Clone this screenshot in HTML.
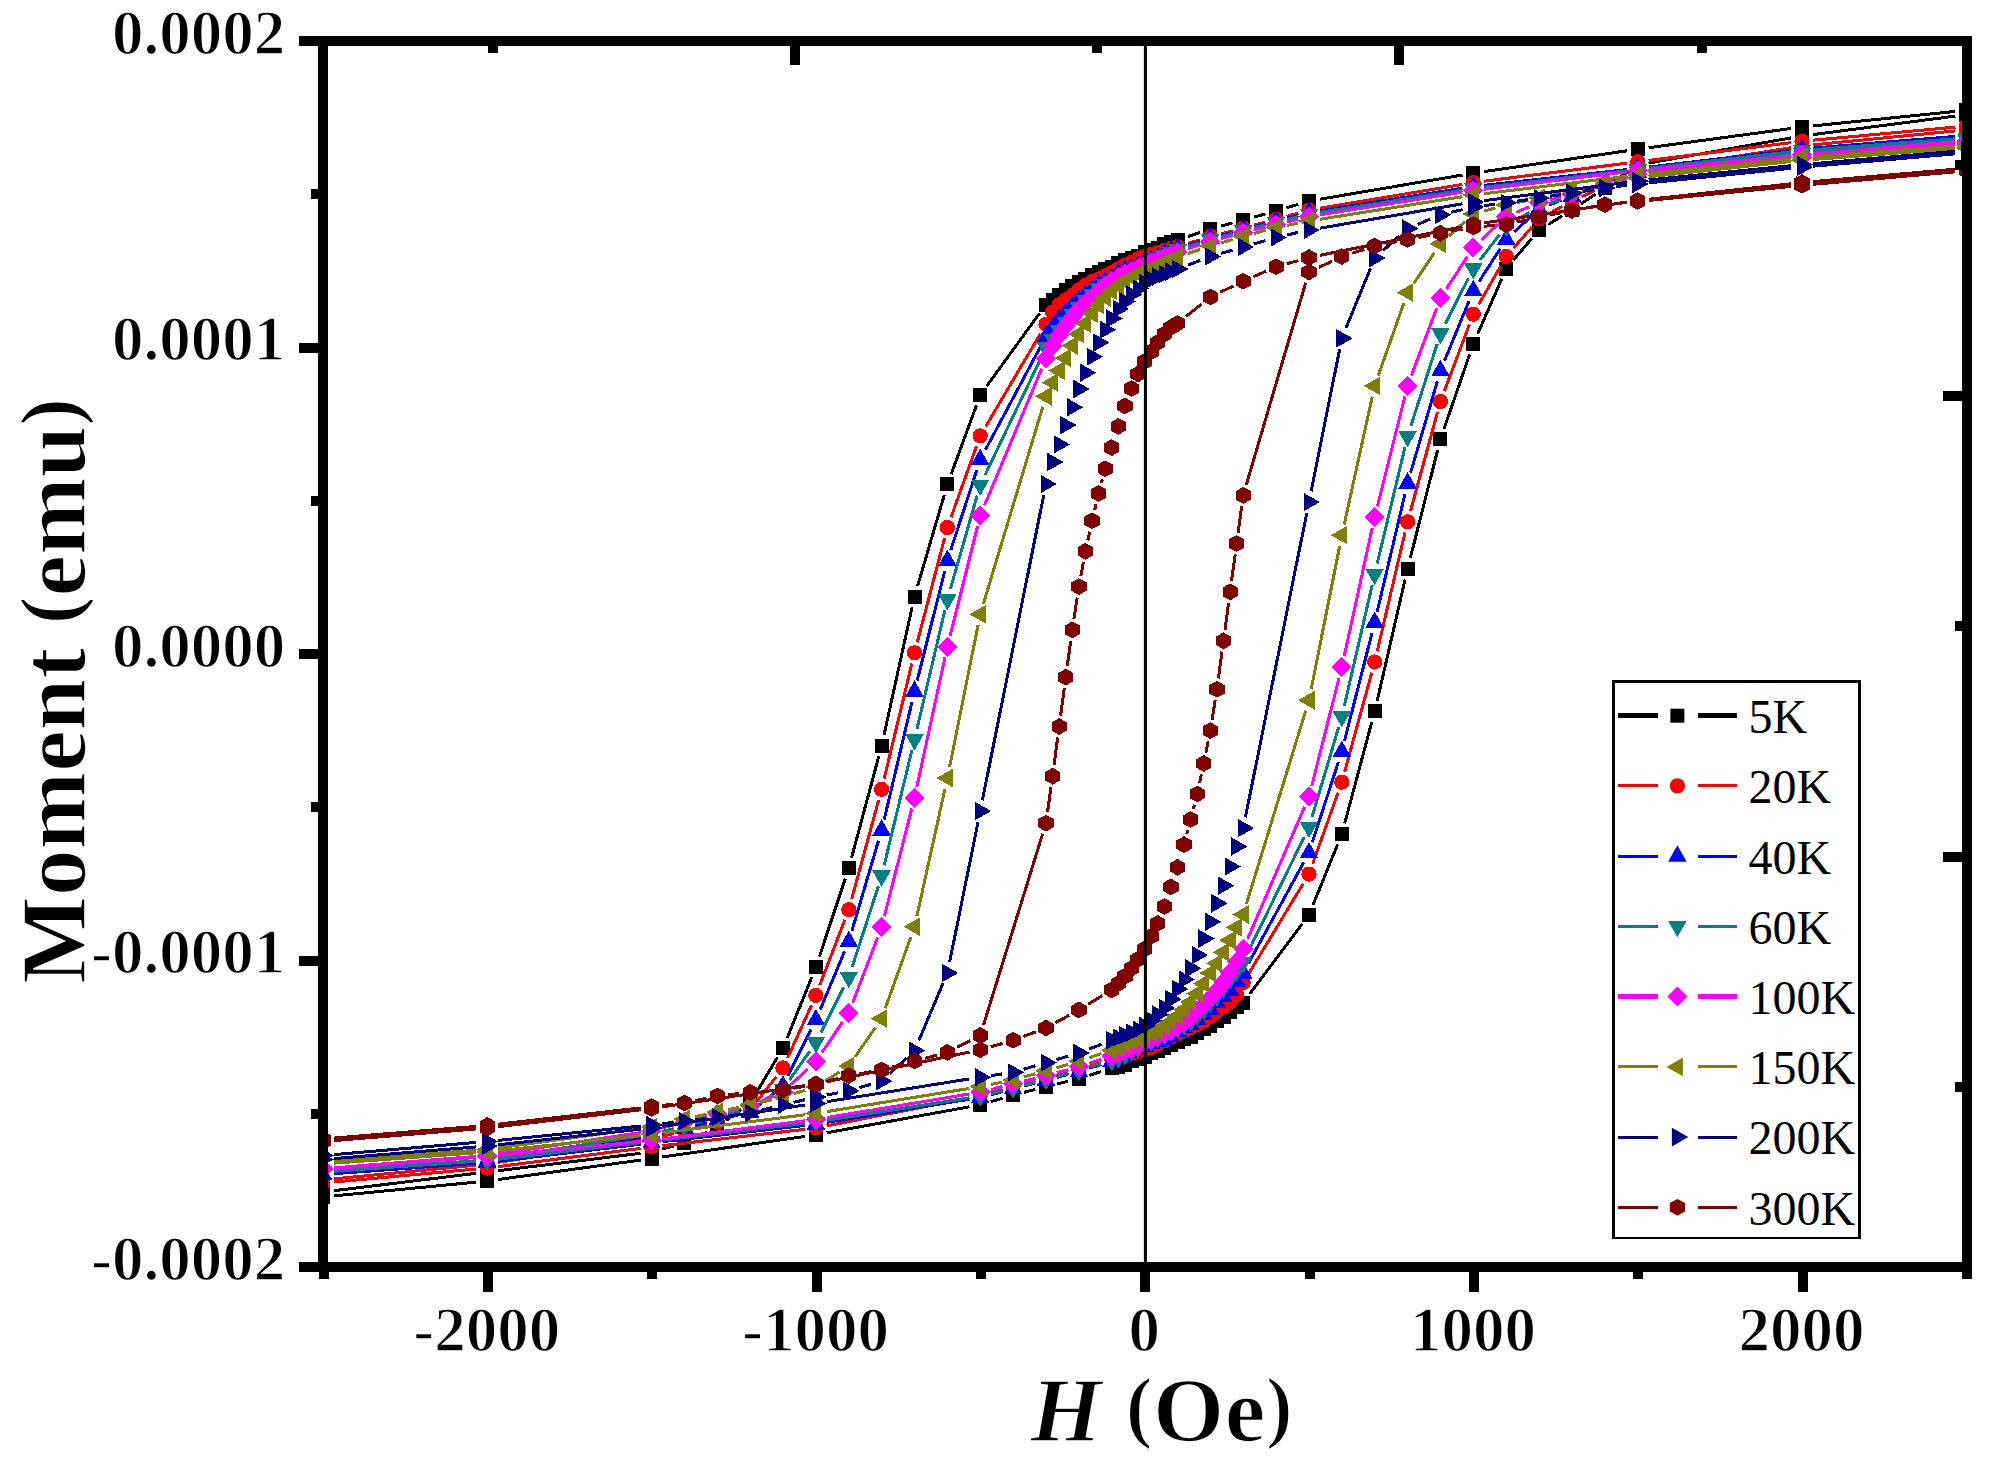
<!DOCTYPE html>
<html lang="en">
<head>
<meta charset="utf-8">
<title>Moment vs H hysteresis loops</title>
<style>
html,body{margin:0;padding:0;background:#fff;}
body{width:1998px;height:1466px;overflow:hidden;}
svg{display:block;}
</style>
</head>
<body>
<svg width="1998" height="1466" viewBox="0 0 1998 1466">
<rect width="1998" height="1466" fill="#fff"/>
<defs><clipPath id="pc"><rect x="323.0" y="41.0" width="1644.0" height="1226.0"/></clipPath></defs>
<g clip-path="url(#pc)" shape-rendering="crispEdges">
<g><path d="M1955.4 111.4L1812.9 125.9M1791.1 128.5L1648.6 147.7M1626.8 150.8L1484.2 171.6M1462.5 175.0L1319.8 199.2M1298.4 204.2L1286.6 207.8M1265.5 213.9L1253.8 217.1M1232.6 222.9L1220.9 226.1M1199.9 232.5L1187.9 236.5M1039.5 313.4L986.7 386.1M976.5 405.3L951.2 474.1M944.3 495.0L917.6 586.0M912.1 607.3L884.0 735.0M878.8 756.3L851.6 857.7M845.3 878.7L819.4 956.6M811.8 977.2L787.2 1037.8M777.4 1057.4L755.8 1093.6M741.3 1109.5L726.2 1120.5M707.4 1131.8L694.3 1138.2M673.8 1145.9L662.2 1149.1M640.6 1153.3L498.1 1170.7M476.3 1173.3L333.8 1190.7M333.8 1195.9L476.3 1182.1M498.1 1179.5L640.7 1160.1M662.4 1157.0L805.0 1136.4M826.7 1132.8L969.4 1106.8M990.8 1101.7L1002.6 1098.2M1023.8 1092.4L1035.3 1089.5M1056.7 1084.1L1068.2 1081.3M1089.4 1075.3L1101.2 1071.6M1249.8 993.9L1302.4 923.8M1313.1 904.8L1337.7 844.2M1344.7 823.4L1371.8 722.0M1377.2 700.7L1405.1 579.5M1410.3 558.1L1437.7 450.0M1444.0 428.9L1469.7 354.3M1477.7 333.8L1501.8 278.7M1513.3 260.2L1531.9 238.5M1548.4 224.4L1562.5 215.7M1581.1 203.9L1595.6 194.1M1613.8 181.7L1628.6 171.3M1648.5 163.1L1791.2 137.9M1812.9 134.6L1955.4 116.1" stroke="#000000" stroke-width="3.0" fill="none"/>
<rect x="1959.4" y="103.3" width="14" height="14" fill="#000000"/>
<rect x="1795.0" y="120.0" width="14" height="14" fill="#000000"/>
<rect x="1630.7" y="142.2" width="14" height="14" fill="#000000"/>
<rect x="1466.3" y="166.2" width="14" height="14" fill="#000000"/>
<rect x="1302.0" y="194.0" width="14" height="14" fill="#000000"/>
<rect x="1269.1" y="204.0" width="14" height="14" fill="#000000"/>
<rect x="1236.2" y="213.0" width="14" height="14" fill="#000000"/>
<rect x="1203.3" y="222.0" width="14" height="14" fill="#000000"/>
<rect x="1170.5" y="233.0" width="14" height="14" fill="#000000"/>
<rect x="1163.9" y="234.6" width="14" height="14" fill="#000000"/>
<rect x="1157.3" y="236.5" width="14" height="14" fill="#000000"/>
<rect x="1150.7" y="240.5" width="14" height="14" fill="#000000"/>
<rect x="1144.2" y="242.5" width="14" height="14" fill="#000000"/>
<rect x="1137.6" y="245.0" width="14" height="14" fill="#000000"/>
<rect x="1131.0" y="248.5" width="14" height="14" fill="#000000"/>
<rect x="1124.5" y="251.0" width="14" height="14" fill="#000000"/>
<rect x="1117.9" y="253.3" width="14" height="14" fill="#000000"/>
<rect x="1111.3" y="256.1" width="14" height="14" fill="#000000"/>
<rect x="1104.7" y="259.5" width="14" height="14" fill="#000000"/>
<rect x="1098.2" y="262.0" width="14" height="14" fill="#000000"/>
<rect x="1091.6" y="264.5" width="14" height="14" fill="#000000"/>
<rect x="1085.0" y="268.0" width="14" height="14" fill="#000000"/>
<rect x="1078.4" y="271.7" width="14" height="14" fill="#000000"/>
<rect x="1071.9" y="275.0" width="14" height="14" fill="#000000"/>
<rect x="1065.3" y="279.2" width="14" height="14" fill="#000000"/>
<rect x="1058.7" y="283.4" width="14" height="14" fill="#000000"/>
<rect x="1052.1" y="288.0" width="14" height="14" fill="#000000"/>
<rect x="1045.6" y="293.0" width="14" height="14" fill="#000000"/>
<rect x="1039.0" y="297.5" width="14" height="14" fill="#000000"/>
<rect x="973.2" y="388.0" width="14" height="14" fill="#000000"/>
<rect x="940.4" y="477.4" width="14" height="14" fill="#000000"/>
<rect x="907.5" y="589.6" width="14" height="14" fill="#000000"/>
<rect x="874.6" y="738.7" width="14" height="14" fill="#000000"/>
<rect x="841.8" y="861.3" width="14" height="14" fill="#000000"/>
<rect x="808.9" y="960.0" width="14" height="14" fill="#000000"/>
<rect x="776.0" y="1041.0" width="14" height="14" fill="#000000"/>
<rect x="743.2" y="1096.0" width="14" height="14" fill="#000000"/>
<rect x="710.3" y="1120.0" width="14" height="14" fill="#000000"/>
<rect x="677.4" y="1136.0" width="14" height="14" fill="#000000"/>
<rect x="644.6" y="1145.0" width="14" height="14" fill="#000000"/>
<rect x="480.2" y="1165.0" width="14" height="14" fill="#000000"/>
<rect x="315.9" y="1185.0" width="14" height="14" fill="#000000"/>
<rect x="315.9" y="1190.0" width="14" height="14" fill="#000000"/>
<rect x="480.2" y="1174.0" width="14" height="14" fill="#000000"/>
<rect x="644.6" y="1151.6" width="14" height="14" fill="#000000"/>
<rect x="808.9" y="1127.8" width="14" height="14" fill="#000000"/>
<rect x="973.2" y="1097.8" width="14" height="14" fill="#000000"/>
<rect x="1006.1" y="1088.1" width="14" height="14" fill="#000000"/>
<rect x="1039.0" y="1079.8" width="14" height="14" fill="#000000"/>
<rect x="1071.9" y="1071.6" width="14" height="14" fill="#000000"/>
<rect x="1104.7" y="1061.3" width="14" height="14" fill="#000000"/>
<rect x="1111.3" y="1059.8" width="14" height="14" fill="#000000"/>
<rect x="1117.9" y="1058.0" width="14" height="14" fill="#000000"/>
<rect x="1124.5" y="1054.0" width="14" height="14" fill="#000000"/>
<rect x="1131.0" y="1052.1" width="14" height="14" fill="#000000"/>
<rect x="1137.6" y="1049.6" width="14" height="14" fill="#000000"/>
<rect x="1144.2" y="1046.1" width="14" height="14" fill="#000000"/>
<rect x="1150.7" y="1043.5" width="14" height="14" fill="#000000"/>
<rect x="1157.3" y="1041.2" width="14" height="14" fill="#000000"/>
<rect x="1163.9" y="1038.3" width="14" height="14" fill="#000000"/>
<rect x="1170.5" y="1034.7" width="14" height="14" fill="#000000"/>
<rect x="1177.0" y="1032.1" width="14" height="14" fill="#000000"/>
<rect x="1183.6" y="1029.5" width="14" height="14" fill="#000000"/>
<rect x="1190.2" y="1025.8" width="14" height="14" fill="#000000"/>
<rect x="1196.8" y="1022.0" width="14" height="14" fill="#000000"/>
<rect x="1203.3" y="1018.6" width="14" height="14" fill="#000000"/>
<rect x="1209.9" y="1014.2" width="14" height="14" fill="#000000"/>
<rect x="1216.5" y="1009.9" width="14" height="14" fill="#000000"/>
<rect x="1223.1" y="1005.3" width="14" height="14" fill="#000000"/>
<rect x="1229.6" y="1000.2" width="14" height="14" fill="#000000"/>
<rect x="1236.2" y="995.7" width="14" height="14" fill="#000000"/>
<rect x="1302.0" y="908.0" width="14" height="14" fill="#000000"/>
<rect x="1334.8" y="827.0" width="14" height="14" fill="#000000"/>
<rect x="1367.7" y="704.4" width="14" height="14" fill="#000000"/>
<rect x="1400.6" y="561.8" width="14" height="14" fill="#000000"/>
<rect x="1433.4" y="432.3" width="14" height="14" fill="#000000"/>
<rect x="1466.3" y="336.9" width="14" height="14" fill="#000000"/>
<rect x="1499.2" y="261.6" width="14" height="14" fill="#000000"/>
<rect x="1532.0" y="223.1" width="14" height="14" fill="#000000"/>
<rect x="1564.9" y="203.0" width="14" height="14" fill="#000000"/>
<rect x="1597.8" y="181.0" width="14" height="14" fill="#000000"/>
<rect x="1630.7" y="158.0" width="14" height="14" fill="#000000"/>
<rect x="1795.0" y="129.0" width="14" height="14" fill="#000000"/>
<rect x="1959.4" y="107.7" width="14" height="14" fill="#000000"/></g>
<g><path d="M1955.4 127.1L1813.0 140.2M1791.1 142.6L1648.6 160.4M1626.7 163.2L1484.2 181.2M1462.4 184.4L1319.8 208.2M1298.4 213.1L1286.6 216.4M1265.4 222.3L1253.9 225.2M1232.6 230.8L1221.0 233.7M1199.8 239.8L1188.0 243.4M1040.4 333.7L985.8 426.4M976.5 446.3L951.1 517.1M944.6 538.1L917.3 642.2M911.9 663.5L884.2 778.6M878.7 799.9L851.7 899.1M844.8 920.0L819.8 985.1M811.4 1005.4L787.6 1058.0M776.3 1076.7L756.9 1101.3M739.8 1113.8L727.6 1118.2M706.7 1124.9L695.0 1128.1M673.7 1133.6L662.2 1136.4M640.7 1140.7L498.1 1162.3M476.3 1165.1L333.8 1178.9M333.8 1182.0L476.2 1169.0M498.1 1166.6L640.6 1148.4M662.5 1145.7L805.0 1129.3M826.7 1125.9L969.5 1097.9M990.8 1092.7L1002.6 1089.4M1023.8 1083.6L1035.3 1080.6M1056.6 1075.1L1068.2 1072.2M1089.4 1066.2L1101.2 1062.6M1248.9 973.3L1303.3 883.5M1312.7 863.7L1338.1 792.6M1344.7 771.6L1371.8 672.6M1377.2 651.3L1405.0 532.5M1410.5 511.2L1437.5 412.2M1444.3 391.3L1469.4 324.5M1478.7 304.6L1500.7 266.1M1513.4 248.2L1531.8 227.3M1548.7 213.8L1562.2 206.4M1581.9 196.6L1594.8 190.6M1614.9 181.7L1627.5 176.3M1648.5 170.3L1791.1 147.7M1812.9 144.9L1955.4 130.9" stroke="#ff0000" stroke-width="3.0" fill="none"/>
<circle cx="1966.4" cy="126.1" r="7.6" fill="#ff0000"/>
<circle cx="1802.0" cy="141.2" r="7.6" fill="#ff0000"/>
<circle cx="1637.7" cy="161.8" r="7.6" fill="#ff0000"/>
<circle cx="1473.3" cy="182.6" r="7.6" fill="#ff0000"/>
<circle cx="1309.0" cy="210.0" r="7.6" fill="#ff0000"/>
<circle cx="1276.1" cy="219.5" r="7.6" fill="#ff0000"/>
<circle cx="1243.2" cy="228.0" r="7.6" fill="#ff0000"/>
<circle cx="1210.3" cy="236.5" r="7.6" fill="#ff0000"/>
<circle cx="1177.5" cy="246.7" r="7.6" fill="#ff0000"/>
<circle cx="1170.9" cy="248.6" r="7.6" fill="#ff0000"/>
<circle cx="1164.3" cy="250.5" r="7.6" fill="#ff0000"/>
<circle cx="1157.7" cy="252.4" r="7.6" fill="#ff0000"/>
<circle cx="1151.2" cy="254.4" r="7.6" fill="#ff0000"/>
<circle cx="1144.6" cy="256.5" r="7.6" fill="#ff0000"/>
<circle cx="1138.0" cy="259.0" r="7.6" fill="#ff0000"/>
<circle cx="1131.5" cy="262.2" r="7.6" fill="#ff0000"/>
<circle cx="1124.9" cy="265.5" r="7.6" fill="#ff0000"/>
<circle cx="1118.3" cy="268.8" r="7.6" fill="#ff0000"/>
<circle cx="1111.7" cy="272.6" r="7.6" fill="#ff0000"/>
<circle cx="1105.2" cy="275.8" r="7.6" fill="#ff0000"/>
<circle cx="1098.6" cy="279.0" r="7.6" fill="#ff0000"/>
<circle cx="1092.0" cy="281.8" r="7.6" fill="#ff0000"/>
<circle cx="1085.4" cy="285.5" r="7.6" fill="#ff0000"/>
<circle cx="1078.9" cy="290.0" r="7.6" fill="#ff0000"/>
<circle cx="1072.3" cy="295.3" r="7.6" fill="#ff0000"/>
<circle cx="1065.7" cy="299.8" r="7.6" fill="#ff0000"/>
<circle cx="1059.1" cy="304.8" r="7.6" fill="#ff0000"/>
<circle cx="1052.6" cy="312.0" r="7.6" fill="#ff0000"/>
<circle cx="1046.0" cy="324.2" r="7.6" fill="#ff0000"/>
<circle cx="980.2" cy="435.9" r="7.6" fill="#ff0000"/>
<circle cx="947.4" cy="527.5" r="7.6" fill="#ff0000"/>
<circle cx="914.5" cy="652.8" r="7.6" fill="#ff0000"/>
<circle cx="881.6" cy="789.3" r="7.6" fill="#ff0000"/>
<circle cx="848.8" cy="909.7" r="7.6" fill="#ff0000"/>
<circle cx="815.9" cy="995.4" r="7.6" fill="#ff0000"/>
<circle cx="783.0" cy="1068.0" r="7.6" fill="#ff0000"/>
<circle cx="750.2" cy="1110.0" r="7.6" fill="#ff0000"/>
<circle cx="717.3" cy="1122.0" r="7.6" fill="#ff0000"/>
<circle cx="684.4" cy="1131.0" r="7.6" fill="#ff0000"/>
<circle cx="651.6" cy="1139.0" r="7.6" fill="#ff0000"/>
<circle cx="487.2" cy="1164.0" r="7.6" fill="#ff0000"/>
<circle cx="322.9" cy="1180.0" r="7.6" fill="#ff0000"/>
<circle cx="322.9" cy="1183.0" r="7.6" fill="#ff0000"/>
<circle cx="487.2" cy="1168.0" r="7.6" fill="#ff0000"/>
<circle cx="651.6" cy="1147.0" r="7.6" fill="#ff0000"/>
<circle cx="815.9" cy="1128.0" r="7.6" fill="#ff0000"/>
<circle cx="980.2" cy="1095.8" r="7.6" fill="#ff0000"/>
<circle cx="1013.1" cy="1086.3" r="7.6" fill="#ff0000"/>
<circle cx="1046.0" cy="1077.9" r="7.6" fill="#ff0000"/>
<circle cx="1078.9" cy="1069.4" r="7.6" fill="#ff0000"/>
<circle cx="1111.7" cy="1059.3" r="7.6" fill="#ff0000"/>
<circle cx="1118.3" cy="1057.4" r="7.6" fill="#ff0000"/>
<circle cx="1124.9" cy="1055.6" r="7.6" fill="#ff0000"/>
<circle cx="1131.5" cy="1053.7" r="7.6" fill="#ff0000"/>
<circle cx="1138.0" cy="1051.8" r="7.6" fill="#ff0000"/>
<circle cx="1144.6" cy="1049.7" r="7.6" fill="#ff0000"/>
<circle cx="1151.2" cy="1047.2" r="7.6" fill="#ff0000"/>
<circle cx="1157.7" cy="1044.1" r="7.6" fill="#ff0000"/>
<circle cx="1164.3" cy="1040.8" r="7.6" fill="#ff0000"/>
<circle cx="1170.9" cy="1037.5" r="7.6" fill="#ff0000"/>
<circle cx="1177.5" cy="1033.8" r="7.6" fill="#ff0000"/>
<circle cx="1184.0" cy="1030.6" r="7.6" fill="#ff0000"/>
<circle cx="1190.6" cy="1027.5" r="7.6" fill="#ff0000"/>
<circle cx="1197.2" cy="1024.7" r="7.6" fill="#ff0000"/>
<circle cx="1203.8" cy="1021.1" r="7.6" fill="#ff0000"/>
<circle cx="1210.3" cy="1016.6" r="7.6" fill="#ff0000"/>
<circle cx="1216.9" cy="1011.4" r="7.6" fill="#ff0000"/>
<circle cx="1223.5" cy="1006.9" r="7.6" fill="#ff0000"/>
<circle cx="1230.1" cy="1002.0" r="7.6" fill="#ff0000"/>
<circle cx="1236.6" cy="994.8" r="7.6" fill="#ff0000"/>
<circle cx="1243.2" cy="982.7" r="7.6" fill="#ff0000"/>
<circle cx="1309.0" cy="874.1" r="7.6" fill="#ff0000"/>
<circle cx="1341.8" cy="782.2" r="7.6" fill="#ff0000"/>
<circle cx="1374.7" cy="662.0" r="7.6" fill="#ff0000"/>
<circle cx="1407.6" cy="521.8" r="7.6" fill="#ff0000"/>
<circle cx="1440.4" cy="401.6" r="7.6" fill="#ff0000"/>
<circle cx="1473.3" cy="314.2" r="7.6" fill="#ff0000"/>
<circle cx="1506.2" cy="256.5" r="7.6" fill="#ff0000"/>
<circle cx="1539.0" cy="219.0" r="7.6" fill="#ff0000"/>
<circle cx="1571.9" cy="201.2" r="7.6" fill="#ff0000"/>
<circle cx="1604.8" cy="186.0" r="7.6" fill="#ff0000"/>
<circle cx="1637.7" cy="172.0" r="7.6" fill="#ff0000"/>
<circle cx="1802.0" cy="146.0" r="7.6" fill="#ff0000"/>
<circle cx="1966.4" cy="129.8" r="7.6" fill="#ff0000"/></g>
<g><path d="M1955.4 136.4L1813.0 148.1M1791.1 150.3L1648.6 167.1M1626.7 169.6L1484.2 185.3M1462.4 188.2L1319.8 210.8M1298.3 215.3L1286.7 218.2M1265.4 223.8L1253.9 226.7M1232.6 232.3L1221.0 235.2M1199.9 241.3L1187.9 245.2M1040.8 346.1L985.4 449.9M976.8 470.1L950.8 550.0M944.7 571.2L917.2 680.6M912.0 702.0L884.2 819.5M878.5 840.7L851.9 930.9M844.5 951.5L820.2 1009.7M811.0 1029.7L787.9 1076.1M774.4 1092.8L758.8 1105.2M739.5 1114.6L728.0 1117.4M706.6 1122.6L695.1 1125.4M673.7 1130.6L662.2 1133.4M640.7 1137.7L498.1 1159.8M476.2 1162.3L333.8 1173.2M333.8 1173.7L476.2 1163.3M498.1 1161.2L640.6 1144.2M662.5 1141.6L805.0 1125.4M826.8 1122.4L969.4 1099.2M990.9 1094.7L1002.5 1091.7M1023.8 1086.1L1035.3 1083.0M1056.6 1077.5L1068.2 1074.4M1089.3 1068.3L1101.3 1064.4M1248.5 963.3L1303.7 862.5M1312.3 842.3L1338.4 762.0M1344.5 740.8L1372.0 633.1M1377.2 611.7L1405.0 493.9M1410.6 472.6L1437.3 381.4M1444.6 360.6L1469.1 300.9M1479.2 281.4L1500.2 248.7M1514.2 231.9L1531.0 216.5M1549.3 205.0L1561.7 200.0M1582.1 192.0L1594.6 187.0M1615.2 179.5L1627.2 175.5M1648.6 170.6L1791.1 152.4M1813.0 150.0L1955.4 137.5" stroke="#0000ff" stroke-width="3.0" fill="none"/>
<polygon points="1966.4,124.6 1957.1,141.0 1975.7,141.0" fill="#0000ff"/>
<polygon points="1802.0,138.1 1792.7,154.5 1811.3,154.5" fill="#0000ff"/>
<polygon points="1637.7,157.5 1628.4,173.9 1647.0,173.9" fill="#0000ff"/>
<polygon points="1473.3,175.6 1464.0,192.0 1482.6,192.0" fill="#0000ff"/>
<polygon points="1309.0,201.6 1299.7,218.0 1318.2,218.0" fill="#0000ff"/>
<polygon points="1276.1,210.1 1266.8,226.5 1285.4,226.5" fill="#0000ff"/>
<polygon points="1243.2,218.6 1233.9,235.0 1252.5,235.0" fill="#0000ff"/>
<polygon points="1210.3,227.1 1201.0,243.5 1219.6,243.5" fill="#0000ff"/>
<polygon points="1177.5,237.6 1168.2,254.0 1186.8,254.0" fill="#0000ff"/>
<polygon points="1170.9,240.3 1161.6,256.7 1180.2,256.7" fill="#0000ff"/>
<polygon points="1164.3,243.3 1155.0,259.7 1173.6,259.7" fill="#0000ff"/>
<polygon points="1157.7,246.5 1148.4,262.9 1167.0,262.9" fill="#0000ff"/>
<polygon points="1151.2,249.7 1141.9,266.1 1160.5,266.1" fill="#0000ff"/>
<polygon points="1144.6,252.6 1135.3,269.0 1153.9,269.0" fill="#0000ff"/>
<polygon points="1138.0,255.2 1128.7,271.6 1147.3,271.6" fill="#0000ff"/>
<polygon points="1131.5,257.4 1122.2,273.8 1140.8,273.8" fill="#0000ff"/>
<polygon points="1124.9,259.6 1115.6,276.0 1134.2,276.0" fill="#0000ff"/>
<polygon points="1118.3,262.6 1109.0,279.0 1127.6,279.0" fill="#0000ff"/>
<polygon points="1111.7,267.1 1102.4,283.5 1121.0,283.5" fill="#0000ff"/>
<polygon points="1105.2,270.6 1095.9,287.0 1114.5,287.0" fill="#0000ff"/>
<polygon points="1098.6,274.1 1089.3,290.5 1107.9,290.5" fill="#0000ff"/>
<polygon points="1092.0,279.1 1082.7,295.5 1101.3,295.5" fill="#0000ff"/>
<polygon points="1085.4,283.8 1076.1,300.2 1094.7,300.2" fill="#0000ff"/>
<polygon points="1078.9,289.4 1069.6,305.8 1088.2,305.8" fill="#0000ff"/>
<polygon points="1072.3,295.6 1063.0,312.0 1081.6,312.0" fill="#0000ff"/>
<polygon points="1065.7,301.9 1056.4,318.3 1075.0,318.3" fill="#0000ff"/>
<polygon points="1059.1,308.4 1049.8,324.8 1068.4,324.8" fill="#0000ff"/>
<polygon points="1052.6,317.1 1043.3,333.5 1061.9,333.5" fill="#0000ff"/>
<polygon points="1046.0,325.5 1036.7,341.9 1055.3,341.9" fill="#0000ff"/>
<polygon points="980.2,448.7 971.0,465.1 989.5,465.1" fill="#0000ff"/>
<polygon points="947.4,549.6 938.1,566.0 956.7,566.0" fill="#0000ff"/>
<polygon points="914.5,680.4 905.2,696.8 923.8,696.8" fill="#0000ff"/>
<polygon points="881.6,819.3 872.3,835.7 890.9,835.7" fill="#0000ff"/>
<polygon points="848.8,930.5 839.5,946.9 858.1,946.9" fill="#0000ff"/>
<polygon points="815.9,1008.9 806.6,1025.3 825.2,1025.3" fill="#0000ff"/>
<polygon points="783.0,1075.1 773.7,1091.5 792.3,1091.5" fill="#0000ff"/>
<polygon points="750.2,1101.1 740.9,1117.5 759.5,1117.5" fill="#0000ff"/>
<polygon points="717.3,1109.1 708.0,1125.5 726.6,1125.5" fill="#0000ff"/>
<polygon points="684.4,1117.1 675.1,1133.5 693.7,1133.5" fill="#0000ff"/>
<polygon points="651.6,1125.1 642.3,1141.5 660.9,1141.5" fill="#0000ff"/>
<polygon points="487.2,1150.6 477.9,1167.0 496.5,1167.0" fill="#0000ff"/>
<polygon points="322.9,1163.1 313.6,1179.5 332.2,1179.5" fill="#0000ff"/>
<polygon points="322.9,1163.6 313.6,1180.0 332.2,1180.0" fill="#0000ff"/>
<polygon points="487.2,1151.6 477.9,1168.0 496.5,1168.0" fill="#0000ff"/>
<polygon points="651.6,1131.9 642.3,1148.3 660.9,1148.3" fill="#0000ff"/>
<polygon points="815.9,1113.3 806.6,1129.7 825.2,1129.7" fill="#0000ff"/>
<polygon points="980.2,1086.6 971.0,1103.0 989.5,1103.0" fill="#0000ff"/>
<polygon points="1013.1,1078.0 1003.8,1094.4 1022.4,1094.4" fill="#0000ff"/>
<polygon points="1046.0,1069.4 1036.7,1085.8 1055.3,1085.8" fill="#0000ff"/>
<polygon points="1078.9,1060.8 1069.6,1077.2 1088.2,1077.2" fill="#0000ff"/>
<polygon points="1111.7,1050.2 1102.4,1066.6 1121.0,1066.6" fill="#0000ff"/>
<polygon points="1118.3,1047.5 1109.0,1063.9 1127.6,1063.9" fill="#0000ff"/>
<polygon points="1124.9,1044.4 1115.6,1060.8 1134.2,1060.8" fill="#0000ff"/>
<polygon points="1131.5,1041.2 1122.2,1057.6 1140.8,1057.6" fill="#0000ff"/>
<polygon points="1138.0,1038.0 1128.7,1054.4 1147.3,1054.4" fill="#0000ff"/>
<polygon points="1144.6,1035.1 1135.3,1051.5 1153.9,1051.5" fill="#0000ff"/>
<polygon points="1151.2,1032.5 1141.9,1048.9 1160.5,1048.9" fill="#0000ff"/>
<polygon points="1157.7,1030.3 1148.4,1046.7 1167.0,1046.7" fill="#0000ff"/>
<polygon points="1164.3,1028.1 1155.0,1044.5 1173.6,1044.5" fill="#0000ff"/>
<polygon points="1170.9,1025.1 1161.6,1041.5 1180.2,1041.5" fill="#0000ff"/>
<polygon points="1177.5,1020.5 1168.2,1036.9 1186.8,1036.9" fill="#0000ff"/>
<polygon points="1184.0,1017.0 1174.7,1033.4 1193.3,1033.4" fill="#0000ff"/>
<polygon points="1190.6,1013.5 1181.3,1029.9 1199.9,1029.9" fill="#0000ff"/>
<polygon points="1197.2,1008.5 1187.9,1024.9 1206.5,1024.9" fill="#0000ff"/>
<polygon points="1203.8,1003.8 1194.5,1020.2 1213.1,1020.2" fill="#0000ff"/>
<polygon points="1210.3,998.2 1201.0,1014.6 1219.6,1014.6" fill="#0000ff"/>
<polygon points="1216.9,992.0 1207.6,1008.4 1226.2,1008.4" fill="#0000ff"/>
<polygon points="1223.5,985.7 1214.2,1002.1 1232.8,1002.1" fill="#0000ff"/>
<polygon points="1230.1,979.2 1220.8,995.6 1239.4,995.6" fill="#0000ff"/>
<polygon points="1236.6,970.5 1227.3,986.9 1245.9,986.9" fill="#0000ff"/>
<polygon points="1243.2,962.1 1233.9,978.5 1252.5,978.5" fill="#0000ff"/>
<polygon points="1309.0,841.9 1299.7,858.3 1318.2,858.3" fill="#0000ff"/>
<polygon points="1341.8,740.6 1332.5,757.0 1351.1,757.0" fill="#0000ff"/>
<polygon points="1374.7,611.5 1365.4,627.9 1384.0,627.9" fill="#0000ff"/>
<polygon points="1407.6,472.3 1398.3,488.7 1416.9,488.7" fill="#0000ff"/>
<polygon points="1440.4,359.9 1431.1,376.3 1449.7,376.3" fill="#0000ff"/>
<polygon points="1473.3,279.8 1464.0,296.2 1482.6,296.2" fill="#0000ff"/>
<polygon points="1506.2,228.5 1496.9,244.9 1515.5,244.9" fill="#0000ff"/>
<polygon points="1539.0,198.1 1529.7,214.5 1548.3,214.5" fill="#0000ff"/>
<polygon points="1571.9,185.1 1562.6,201.5 1581.2,201.5" fill="#0000ff"/>
<polygon points="1604.8,172.1 1595.5,188.5 1614.1,188.5" fill="#0000ff"/>
<polygon points="1637.7,161.1 1628.4,177.5 1647.0,177.5" fill="#0000ff"/>
<polygon points="1802.0,140.1 1792.7,156.5 1811.3,156.5" fill="#0000ff"/>
<polygon points="1966.4,125.6 1957.1,142.0 1975.7,142.0" fill="#0000ff"/></g>
<g><path d="M1955.4 138.8L1813.0 149.7M1791.1 151.8L1648.6 168.2M1626.7 170.8L1484.2 187.2M1462.4 190.2L1319.8 212.3M1298.3 216.6L1286.8 219.4M1265.4 224.8L1253.9 227.7M1232.6 233.4L1220.9 236.6M1199.8 242.7L1188.0 246.3M1041.2 357.6L985.0 475.1M977.2 495.6L950.4 588.9M944.9 610.2L917.0 728.9M911.9 750.3L884.2 865.2M878.3 886.4L852.2 966.9M843.8 987.2L820.9 1032.7M809.6 1051.5L789.4 1080.0M773.5 1094.5L759.7 1102.5M739.6 1110.9L727.9 1114.1M706.7 1119.9L695.0 1123.1M673.7 1128.6L662.2 1131.4M640.7 1135.7L498.1 1158.3M476.2 1160.8L333.8 1170.7M333.8 1171.2L476.2 1161.3M498.1 1159.2L640.6 1142.6M662.5 1140.1L805.0 1123.3M826.8 1120.3L969.4 1097.8M990.9 1093.4L1002.4 1090.6M1023.8 1085.2L1035.3 1082.2M1056.6 1076.5L1068.3 1073.3M1089.4 1067.1L1101.2 1063.5M1248.0 952.1L1304.1 837.2M1312.1 816.8L1338.7 727.0M1344.3 705.8L1372.2 585.0M1377.2 563.6L1405.0 447.1M1410.9 425.9L1437.1 344.0M1445.4 323.7L1468.3 278.4M1480.0 259.9L1499.5 234.7M1515.7 220.5L1529.5 212.5M1549.5 203.5L1561.5 199.5M1582.2 192.2L1594.4 187.8M1615.1 180.2L1627.3 175.8M1648.6 170.7L1791.1 154.3M1813.0 152.1L1955.4 140.9" stroke="#008080" stroke-width="3.0" fill="none"/>
<polygon points="1966.4,148.9 1957.1,132.5 1975.7,132.5" fill="#008080"/>
<polygon points="1802.0,161.4 1792.7,145.0 1811.3,145.0" fill="#008080"/>
<polygon points="1637.7,180.4 1628.4,164.0 1647.0,164.0" fill="#008080"/>
<polygon points="1473.3,199.4 1464.0,183.0 1482.6,183.0" fill="#008080"/>
<polygon points="1309.0,224.9 1299.7,208.5 1318.2,208.5" fill="#008080"/>
<polygon points="1276.1,232.9 1266.8,216.5 1285.4,216.5" fill="#008080"/>
<polygon points="1243.2,241.4 1233.9,225.0 1252.5,225.0" fill="#008080"/>
<polygon points="1210.3,250.4 1201.0,234.0 1219.6,234.0" fill="#008080"/>
<polygon points="1177.5,260.4 1168.2,244.0 1186.8,244.0" fill="#008080"/>
<polygon points="1170.9,263.1 1161.6,246.7 1180.2,246.7" fill="#008080"/>
<polygon points="1164.3,266.3 1155.0,249.9 1173.6,249.9" fill="#008080"/>
<polygon points="1157.7,269.6 1148.4,253.2 1167.0,253.2" fill="#008080"/>
<polygon points="1151.2,273.1 1141.9,256.7 1160.5,256.7" fill="#008080"/>
<polygon points="1144.6,276.4 1135.3,260.0 1153.9,260.0" fill="#008080"/>
<polygon points="1138.0,279.6 1128.7,263.2 1147.3,263.2" fill="#008080"/>
<polygon points="1131.5,282.7 1122.2,266.3 1140.8,266.3" fill="#008080"/>
<polygon points="1124.9,285.9 1115.6,269.5 1134.2,269.5" fill="#008080"/>
<polygon points="1118.3,289.1 1109.0,272.7 1127.6,272.7" fill="#008080"/>
<polygon points="1111.7,292.4 1102.4,276.0 1121.0,276.0" fill="#008080"/>
<polygon points="1105.2,295.6 1095.9,279.2 1114.5,279.2" fill="#008080"/>
<polygon points="1098.6,299.4 1089.3,283.0 1107.9,283.0" fill="#008080"/>
<polygon points="1092.0,304.9 1082.7,288.5 1101.3,288.5" fill="#008080"/>
<polygon points="1085.4,311.4 1076.1,295.0 1094.7,295.0" fill="#008080"/>
<polygon points="1078.9,318.4 1069.6,302.0 1088.2,302.0" fill="#008080"/>
<polygon points="1072.3,324.9 1063.0,308.5 1081.6,308.5" fill="#008080"/>
<polygon points="1065.7,332.9 1056.4,316.5 1075.0,316.5" fill="#008080"/>
<polygon points="1059.1,341.4 1049.8,325.0 1068.4,325.0" fill="#008080"/>
<polygon points="1052.6,349.9 1043.3,333.5 1061.9,333.5" fill="#008080"/>
<polygon points="1046.0,358.6 1036.7,342.2 1055.3,342.2" fill="#008080"/>
<polygon points="980.2,495.9 971.0,479.5 989.5,479.5" fill="#008080"/>
<polygon points="947.4,610.4 938.1,594.0 956.7,594.0" fill="#008080"/>
<polygon points="914.5,750.5 905.2,734.1 923.8,734.1" fill="#008080"/>
<polygon points="881.6,886.8 872.3,870.4 890.9,870.4" fill="#008080"/>
<polygon points="848.8,988.3 839.5,971.9 858.1,971.9" fill="#008080"/>
<polygon points="815.9,1053.4 806.6,1037.0 825.2,1037.0" fill="#008080"/>
<polygon points="783.0,1099.9 773.7,1083.5 792.3,1083.5" fill="#008080"/>
<polygon points="750.2,1118.9 740.9,1102.5 759.5,1102.5" fill="#008080"/>
<polygon points="717.3,1127.9 708.0,1111.5 726.6,1111.5" fill="#008080"/>
<polygon points="684.4,1136.9 675.1,1120.5 693.7,1120.5" fill="#008080"/>
<polygon points="651.6,1144.9 642.3,1128.5 660.9,1128.5" fill="#008080"/>
<polygon points="487.2,1170.9 477.9,1154.5 496.5,1154.5" fill="#008080"/>
<polygon points="322.9,1182.4 313.6,1166.0 332.2,1166.0" fill="#008080"/>
<polygon points="322.9,1182.9 313.6,1166.5 332.2,1166.5" fill="#008080"/>
<polygon points="487.2,1171.4 477.9,1155.0 496.5,1155.0" fill="#008080"/>
<polygon points="651.6,1152.2 642.3,1135.8 660.9,1135.8" fill="#008080"/>
<polygon points="815.9,1132.9 806.6,1116.5 825.2,1116.5" fill="#008080"/>
<polygon points="980.2,1107.0 971.0,1090.6 989.5,1090.6" fill="#008080"/>
<polygon points="1013.1,1098.9 1003.8,1082.5 1022.4,1082.5" fill="#008080"/>
<polygon points="1046.0,1090.3 1036.7,1073.9 1055.3,1073.9" fill="#008080"/>
<polygon points="1078.9,1081.3 1069.6,1064.9 1088.2,1064.9" fill="#008080"/>
<polygon points="1111.7,1071.2 1102.4,1054.8 1121.0,1054.8" fill="#008080"/>
<polygon points="1118.3,1068.5 1109.0,1052.1 1127.6,1052.1" fill="#008080"/>
<polygon points="1124.9,1065.3 1115.6,1048.9 1134.2,1048.9" fill="#008080"/>
<polygon points="1131.5,1061.9 1122.2,1045.5 1140.8,1045.5" fill="#008080"/>
<polygon points="1138.0,1058.5 1128.7,1042.1 1147.3,1042.1" fill="#008080"/>
<polygon points="1144.6,1055.2 1135.3,1038.8 1153.9,1038.8" fill="#008080"/>
<polygon points="1151.2,1052.0 1141.9,1035.6 1160.5,1035.6" fill="#008080"/>
<polygon points="1157.7,1048.8 1148.4,1032.4 1167.0,1032.4" fill="#008080"/>
<polygon points="1164.3,1045.7 1155.0,1029.3 1173.6,1029.3" fill="#008080"/>
<polygon points="1170.9,1042.4 1161.6,1026.0 1180.2,1026.0" fill="#008080"/>
<polygon points="1177.5,1039.1 1168.2,1022.7 1186.8,1022.7" fill="#008080"/>
<polygon points="1184.0,1035.9 1174.7,1019.5 1193.3,1019.5" fill="#008080"/>
<polygon points="1190.6,1032.1 1181.3,1015.7 1199.9,1015.7" fill="#008080"/>
<polygon points="1197.2,1026.6 1187.9,1010.2 1206.5,1010.2" fill="#008080"/>
<polygon points="1203.8,1020.1 1194.5,1003.7 1213.1,1003.7" fill="#008080"/>
<polygon points="1210.3,1013.1 1201.0,996.7 1219.6,996.7" fill="#008080"/>
<polygon points="1216.9,1006.6 1207.6,990.2 1226.2,990.2" fill="#008080"/>
<polygon points="1223.5,998.6 1214.2,982.2 1232.8,982.2" fill="#008080"/>
<polygon points="1230.1,990.1 1220.8,973.7 1239.4,973.7" fill="#008080"/>
<polygon points="1236.6,981.6 1227.3,965.2 1245.9,965.2" fill="#008080"/>
<polygon points="1243.2,972.9 1233.9,956.5 1252.5,956.5" fill="#008080"/>
<polygon points="1309.0,838.2 1299.7,821.8 1318.2,821.8" fill="#008080"/>
<polygon points="1341.8,727.4 1332.5,711.0 1351.1,711.0" fill="#008080"/>
<polygon points="1374.7,585.2 1365.4,568.8 1384.0,568.8" fill="#008080"/>
<polygon points="1407.6,447.3 1398.3,430.9 1416.9,430.9" fill="#008080"/>
<polygon points="1440.4,344.4 1431.1,328.0 1449.7,328.0" fill="#008080"/>
<polygon points="1473.3,279.5 1464.0,263.1 1482.6,263.1" fill="#008080"/>
<polygon points="1506.2,236.9 1496.9,220.5 1515.5,220.5" fill="#008080"/>
<polygon points="1539.0,217.9 1529.7,201.5 1548.3,201.5" fill="#008080"/>
<polygon points="1571.9,206.9 1562.6,190.5 1581.2,190.5" fill="#008080"/>
<polygon points="1604.8,194.9 1595.5,178.5 1614.1,178.5" fill="#008080"/>
<polygon points="1637.7,182.9 1628.4,166.5 1647.0,166.5" fill="#008080"/>
<polygon points="1802.0,163.9 1792.7,147.5 1811.3,147.5" fill="#008080"/>
<polygon points="1966.4,150.9 1957.1,134.5 1975.7,134.5" fill="#008080"/></g>
<g><path d="M1955.4 141.6L1813.0 154.0M1791.0 155.9L1648.6 169.5M1626.7 171.8L1484.2 189.2M1462.4 192.2L1319.8 214.8M1298.3 219.1L1286.8 222.0M1265.4 227.2L1253.9 229.9M1232.6 235.4L1221.0 238.5M1199.9 244.8L1187.9 248.6M1041.7 368.7L984.5 505.4M977.6 526.2L950.1 636.0M945.0 657.4L916.8 787.1M911.8 808.5L884.4 916.3M877.7 937.3L852.7 1002.7M842.6 1022.1L822.1 1052.3M807.8 1068.9L791.1 1084.5M772.9 1096.3L760.3 1101.7M739.5 1108.6L728.0 1111.4M706.6 1116.6L695.1 1119.4M673.8 1124.9L662.2 1128.1M640.7 1132.6L498.1 1153.9M476.2 1156.4L333.8 1167.9M333.8 1168.6L476.2 1157.4M498.1 1155.4L640.6 1141.5M662.5 1139.0L805.0 1120.8M826.8 1117.6L969.4 1094.0M990.9 1089.5L1002.5 1086.5M1023.8 1081.2L1035.3 1078.4M1056.6 1072.8L1068.3 1069.6M1089.3 1063.2L1101.3 1059.3M1247.6 938.9L1304.6 806.9M1311.7 786.1L1339.1 677.7M1344.2 656.3L1372.3 527.7M1377.4 506.3L1404.9 396.6M1411.4 375.6L1436.6 308.5M1446.4 289.0L1467.3 256.6M1481.3 239.9L1498.2 224.0M1516.3 212.3L1528.9 207.0M1549.7 200.0L1561.3 196.8M1582.4 190.8L1594.3 187.2M1615.3 180.8L1627.1 177.2M1648.6 172.9L1791.1 158.4M1813.0 156.3L1955.4 143.8" stroke="#ff00ff" stroke-width="3.0" fill="none"/>
<polygon points="1966.4,130.7 1976.4,140.7 1966.4,150.7 1956.4,140.7" fill="#ff00ff"/>
<polygon points="1802.0,144.9 1812.0,154.9 1802.0,164.9 1792.0,154.9" fill="#ff00ff"/>
<polygon points="1637.7,160.5 1647.7,170.5 1637.7,180.5 1627.7,170.5" fill="#ff00ff"/>
<polygon points="1473.3,180.5 1483.3,190.5 1473.3,200.5 1463.3,190.5" fill="#ff00ff"/>
<polygon points="1309.0,206.5 1319.0,216.5 1309.0,226.5 1299.0,216.5" fill="#ff00ff"/>
<polygon points="1276.1,214.6 1286.1,224.6 1276.1,234.6 1266.1,224.6" fill="#ff00ff"/>
<polygon points="1243.2,222.5 1253.2,232.5 1243.2,242.5 1233.2,232.5" fill="#ff00ff"/>
<polygon points="1210.3,231.4 1220.3,241.4 1210.3,251.4 1200.3,241.4" fill="#ff00ff"/>
<polygon points="1177.5,242.0 1187.5,252.0 1177.5,262.0 1167.5,252.0" fill="#ff00ff"/>
<polygon points="1170.9,244.5 1180.9,254.5 1170.9,264.5 1160.9,254.5" fill="#ff00ff"/>
<polygon points="1164.3,247.2 1174.3,257.2 1164.3,267.2 1154.3,257.2" fill="#ff00ff"/>
<polygon points="1157.7,250.0 1167.7,260.0 1157.7,270.0 1147.7,260.0" fill="#ff00ff"/>
<polygon points="1151.2,252.8 1161.2,262.8 1151.2,272.8 1141.2,262.8" fill="#ff00ff"/>
<polygon points="1144.6,255.5 1154.6,265.5 1144.6,275.5 1134.6,265.5" fill="#ff00ff"/>
<polygon points="1138.0,258.0 1148.0,268.0 1138.0,278.0 1128.0,268.0" fill="#ff00ff"/>
<polygon points="1131.5,260.5 1141.5,270.5 1131.5,280.5 1121.5,270.5" fill="#ff00ff"/>
<polygon points="1124.9,263.5 1134.9,273.5 1124.9,283.5 1114.9,273.5" fill="#ff00ff"/>
<polygon points="1118.3,267.0 1128.3,277.0 1118.3,287.0 1108.3,277.0" fill="#ff00ff"/>
<polygon points="1111.7,271.0 1121.7,281.0 1111.7,291.0 1101.7,281.0" fill="#ff00ff"/>
<polygon points="1105.2,275.5 1115.2,285.5 1105.2,295.5 1095.2,285.5" fill="#ff00ff"/>
<polygon points="1098.6,281.0 1108.6,291.0 1098.6,301.0 1088.6,291.0" fill="#ff00ff"/>
<polygon points="1092.0,287.0 1102.0,297.0 1092.0,307.0 1082.0,297.0" fill="#ff00ff"/>
<polygon points="1085.4,293.0 1095.4,303.0 1085.4,313.0 1075.4,303.0" fill="#ff00ff"/>
<polygon points="1078.9,299.5 1088.9,309.5 1078.9,319.5 1068.9,309.5" fill="#ff00ff"/>
<polygon points="1072.3,307.0 1082.3,317.0 1072.3,327.0 1062.3,317.0" fill="#ff00ff"/>
<polygon points="1065.7,315.5 1075.7,325.5 1065.7,335.5 1055.7,325.5" fill="#ff00ff"/>
<polygon points="1059.1,325.0 1069.1,335.0 1059.1,345.0 1049.1,335.0" fill="#ff00ff"/>
<polygon points="1052.6,336.0 1062.6,346.0 1052.6,356.0 1042.6,346.0" fill="#ff00ff"/>
<polygon points="1046.0,348.6 1056.0,358.6 1046.0,368.6 1036.0,358.6" fill="#ff00ff"/>
<polygon points="980.2,505.5 990.2,515.5 980.2,525.5 970.2,515.5" fill="#ff00ff"/>
<polygon points="947.4,636.7 957.4,646.7 947.4,656.7 937.4,646.7" fill="#ff00ff"/>
<polygon points="914.5,787.8 924.5,797.8 914.5,807.8 904.5,797.8" fill="#ff00ff"/>
<polygon points="881.6,917.0 891.6,927.0 881.6,937.0 871.6,927.0" fill="#ff00ff"/>
<polygon points="848.8,1003.0 858.8,1013.0 848.8,1023.0 838.8,1013.0" fill="#ff00ff"/>
<polygon points="815.9,1051.4 825.9,1061.4 815.9,1071.4 805.9,1061.4" fill="#ff00ff"/>
<polygon points="783.0,1082.0 793.0,1092.0 783.0,1102.0 773.0,1092.0" fill="#ff00ff"/>
<polygon points="750.2,1096.0 760.2,1106.0 750.2,1116.0 740.2,1106.0" fill="#ff00ff"/>
<polygon points="717.3,1104.0 727.3,1114.0 717.3,1124.0 707.3,1114.0" fill="#ff00ff"/>
<polygon points="684.4,1112.0 694.4,1122.0 684.4,1132.0 674.4,1122.0" fill="#ff00ff"/>
<polygon points="651.6,1121.0 661.6,1131.0 651.6,1141.0 641.6,1131.0" fill="#ff00ff"/>
<polygon points="487.2,1145.5 497.2,1155.5 487.2,1165.5 477.2,1155.5" fill="#ff00ff"/>
<polygon points="322.9,1158.8 332.9,1168.8 322.9,1178.8 312.9,1168.8" fill="#ff00ff"/>
<polygon points="322.9,1159.5 332.9,1169.5 322.9,1179.5 312.9,1169.5" fill="#ff00ff"/>
<polygon points="487.2,1146.5 497.2,1156.5 487.2,1166.5 477.2,1156.5" fill="#ff00ff"/>
<polygon points="651.6,1130.4 661.6,1140.4 651.6,1150.4 641.6,1140.4" fill="#ff00ff"/>
<polygon points="815.9,1109.4 825.9,1119.4 815.9,1129.4 805.9,1119.4" fill="#ff00ff"/>
<polygon points="980.2,1082.2 990.2,1092.2 980.2,1102.2 970.2,1092.2" fill="#ff00ff"/>
<polygon points="1013.1,1073.8 1023.1,1083.8 1013.1,1093.8 1003.1,1083.8" fill="#ff00ff"/>
<polygon points="1046.0,1065.7 1056.0,1075.7 1046.0,1085.7 1036.0,1075.7" fill="#ff00ff"/>
<polygon points="1078.9,1056.7 1088.9,1066.7 1078.9,1076.7 1068.9,1066.7" fill="#ff00ff"/>
<polygon points="1111.7,1045.9 1121.7,1055.9 1111.7,1065.9 1101.7,1055.9" fill="#ff00ff"/>
<polygon points="1118.3,1043.4 1128.3,1053.4 1118.3,1063.4 1108.3,1053.4" fill="#ff00ff"/>
<polygon points="1124.9,1040.6 1134.9,1050.6 1124.9,1060.6 1114.9,1050.6" fill="#ff00ff"/>
<polygon points="1131.5,1037.8 1141.5,1047.8 1131.5,1057.8 1121.5,1047.8" fill="#ff00ff"/>
<polygon points="1138.0,1035.0 1148.0,1045.0 1138.0,1055.0 1128.0,1045.0" fill="#ff00ff"/>
<polygon points="1144.6,1032.3 1154.6,1042.3 1144.6,1052.3 1134.6,1042.3" fill="#ff00ff"/>
<polygon points="1151.2,1029.8 1161.2,1039.8 1151.2,1049.8 1141.2,1039.8" fill="#ff00ff"/>
<polygon points="1157.7,1027.2 1167.7,1037.2 1157.7,1047.2 1147.7,1037.2" fill="#ff00ff"/>
<polygon points="1164.3,1024.2 1174.3,1034.2 1164.3,1044.2 1154.3,1034.2" fill="#ff00ff"/>
<polygon points="1170.9,1020.7 1180.9,1030.7 1170.9,1040.7 1160.9,1030.7" fill="#ff00ff"/>
<polygon points="1177.5,1016.7 1187.5,1026.7 1177.5,1036.7 1167.5,1026.7" fill="#ff00ff"/>
<polygon points="1184.0,1012.2 1194.0,1022.2 1184.0,1032.2 1174.0,1022.2" fill="#ff00ff"/>
<polygon points="1190.6,1006.7 1200.6,1016.7 1190.6,1026.7 1180.6,1016.7" fill="#ff00ff"/>
<polygon points="1197.2,1000.6 1207.2,1010.6 1197.2,1020.6 1187.2,1010.6" fill="#ff00ff"/>
<polygon points="1203.8,994.6 1213.8,1004.6 1203.8,1014.6 1193.8,1004.6" fill="#ff00ff"/>
<polygon points="1210.3,988.1 1220.3,998.1 1210.3,1008.1 1200.3,998.1" fill="#ff00ff"/>
<polygon points="1216.9,980.6 1226.9,990.6 1216.9,1000.6 1206.9,990.6" fill="#ff00ff"/>
<polygon points="1223.5,972.1 1233.5,982.1 1223.5,992.1 1213.5,982.1" fill="#ff00ff"/>
<polygon points="1230.1,962.6 1240.1,972.6 1230.1,982.6 1220.1,972.6" fill="#ff00ff"/>
<polygon points="1236.6,951.6 1246.6,961.6 1236.6,971.6 1226.6,961.6" fill="#ff00ff"/>
<polygon points="1243.2,939.0 1253.2,949.0 1243.2,959.0 1233.2,949.0" fill="#ff00ff"/>
<polygon points="1309.0,786.8 1319.0,796.8 1309.0,806.8 1299.0,796.8" fill="#ff00ff"/>
<polygon points="1341.8,657.0 1351.8,667.0 1341.8,677.0 1331.8,667.0" fill="#ff00ff"/>
<polygon points="1374.7,507.0 1384.7,517.0 1374.7,527.0 1364.7,517.0" fill="#ff00ff"/>
<polygon points="1407.6,375.9 1417.6,385.9 1407.6,395.9 1397.6,385.9" fill="#ff00ff"/>
<polygon points="1440.4,288.2 1450.4,298.2 1440.4,308.2 1430.4,298.2" fill="#ff00ff"/>
<polygon points="1473.3,237.4 1483.3,247.4 1473.3,257.4 1463.3,247.4" fill="#ff00ff"/>
<polygon points="1506.2,206.5 1516.2,216.5 1506.2,226.5 1496.2,216.5" fill="#ff00ff"/>
<polygon points="1539.0,192.8 1549.0,202.8 1539.0,212.8 1529.0,202.8" fill="#ff00ff"/>
<polygon points="1571.9,184.0 1581.9,194.0 1571.9,204.0 1561.9,194.0" fill="#ff00ff"/>
<polygon points="1604.8,174.0 1614.8,184.0 1604.8,194.0 1594.8,184.0" fill="#ff00ff"/>
<polygon points="1637.7,164.0 1647.7,174.0 1637.7,184.0 1627.7,174.0" fill="#ff00ff"/>
<polygon points="1802.0,147.3 1812.0,157.3 1802.0,167.3 1792.0,157.3" fill="#ff00ff"/>
<polygon points="1966.4,132.8 1976.4,142.8 1966.4,152.8 1956.4,142.8" fill="#ff00ff"/></g>
<g><path d="M1955.4 146.0L1813.0 156.7M1791.1 158.7L1648.6 173.8M1626.7 176.3L1484.2 193.7M1462.4 196.7L1319.8 219.3M1298.2 223.1L1286.9 225.4M1265.5 230.4L1253.8 233.6M1232.6 239.6L1220.9 242.9M1199.9 249.5L1187.9 253.5M1042.8 406.8L983.4 603.8M978.1 625.1L949.5 767.2M945.0 788.7L916.9 916.0M910.8 937.1L885.3 1008.2M875.4 1027.6L855.0 1057.0M839.5 1071.9L825.2 1081.1M805.4 1090.2L793.6 1093.8M772.3 1099.6L760.8 1102.4M739.4 1107.3L728.0 1109.7M706.5 1114.3L695.2 1116.7M673.7 1121.6L662.2 1124.4M640.7 1128.5L498.1 1147.9M476.2 1150.2L333.8 1161.0M333.8 1163.2L476.2 1152.8M498.1 1150.8L640.6 1135.4M662.5 1132.8L805.0 1114.8M826.8 1111.6L969.4 1088.4M991.0 1084.4L1002.3 1082.1M1023.7 1077.0L1035.4 1073.8M1056.5 1067.7L1068.3 1064.3M1089.3 1057.7L1101.3 1053.6M1246.4 904.0L1305.7 710.7M1311.1 689.4L1339.7 546.0M1344.2 524.5L1372.3 396.6M1378.3 375.5L1403.9 303.0M1413.7 283.5L1434.3 252.8M1448.6 236.3L1465.1 221.4M1483.9 211.1L1495.6 207.9M1516.9 202.7L1528.3 200.3M1549.8 195.7L1561.2 193.3M1582.7 188.7L1594.0 186.3M1615.6 182.0L1626.8 180.0M1648.6 176.8L1791.1 161.5M1813.0 159.5L1955.4 148.6" stroke="#808000" stroke-width="3.0" fill="none"/>
<polygon points="1955.5,145.2 1971.9,135.9 1971.9,154.5" fill="#808000"/>
<polygon points="1791.1,157.5 1807.5,148.2 1807.5,166.8" fill="#808000"/>
<polygon points="1626.8,175.0 1643.2,165.7 1643.2,184.3" fill="#808000"/>
<polygon points="1462.4,195.0 1478.8,185.7 1478.8,204.3" fill="#808000"/>
<polygon points="1298.0,221.0 1314.5,211.7 1314.5,230.3" fill="#808000"/>
<polygon points="1265.2,227.5 1281.6,218.2 1281.6,236.8" fill="#808000"/>
<polygon points="1232.3,236.5 1248.7,227.2 1248.7,245.8" fill="#808000"/>
<polygon points="1199.4,246.0 1215.8,236.7 1215.8,255.3" fill="#808000"/>
<polygon points="1166.6,257.0 1183.0,247.7 1183.0,266.3" fill="#808000"/>
<polygon points="1160.0,259.7 1176.4,250.4 1176.4,269.0" fill="#808000"/>
<polygon points="1153.4,262.6 1169.8,253.3 1169.8,271.9" fill="#808000"/>
<polygon points="1146.8,265.7 1163.2,256.4 1163.2,275.0" fill="#808000"/>
<polygon points="1140.3,268.7 1156.7,259.4 1156.7,278.0" fill="#808000"/>
<polygon points="1133.7,271.5 1150.1,262.2 1150.1,280.8" fill="#808000"/>
<polygon points="1127.1,274.0 1143.5,264.7 1143.5,283.3" fill="#808000"/>
<polygon points="1120.6,277.0 1137.0,267.7 1137.0,286.3" fill="#808000"/>
<polygon points="1114.0,281.0 1130.4,271.7 1130.4,290.3" fill="#808000"/>
<polygon points="1107.4,285.5 1123.8,276.2 1123.8,294.8" fill="#808000"/>
<polygon points="1100.8,291.0 1117.2,281.7 1117.2,300.3" fill="#808000"/>
<polygon points="1094.3,297.5 1110.7,288.2 1110.7,306.8" fill="#808000"/>
<polygon points="1087.7,305.0 1104.1,295.7 1104.1,314.3" fill="#808000"/>
<polygon points="1081.1,313.5 1097.5,304.2 1097.5,322.8" fill="#808000"/>
<polygon points="1074.5,323.5 1090.9,314.2 1090.9,332.8" fill="#808000"/>
<polygon points="1068.0,334.0 1084.4,324.7 1084.4,343.3" fill="#808000"/>
<polygon points="1061.4,345.5 1077.8,336.2 1077.8,354.8" fill="#808000"/>
<polygon points="1054.8,358.0 1071.2,348.7 1071.2,367.3" fill="#808000"/>
<polygon points="1048.2,370.6 1064.6,361.3 1064.6,379.9" fill="#808000"/>
<polygon points="1041.7,382.6 1058.1,373.3 1058.1,391.9" fill="#808000"/>
<polygon points="1035.1,396.3 1051.5,387.0 1051.5,405.6" fill="#808000"/>
<polygon points="969.4,614.3 985.8,605.0 985.8,623.6" fill="#808000"/>
<polygon points="936.5,778.0 952.9,768.7 952.9,787.3" fill="#808000"/>
<polygon points="903.6,926.7 920.0,917.4 920.0,936.0" fill="#808000"/>
<polygon points="870.7,1018.6 887.1,1009.3 887.1,1027.9" fill="#808000"/>
<polygon points="837.9,1066.0 854.3,1056.7 854.3,1075.3" fill="#808000"/>
<polygon points="805.0,1087.0 821.4,1077.7 821.4,1096.3" fill="#808000"/>
<polygon points="772.1,1097.0 788.5,1087.7 788.5,1106.3" fill="#808000"/>
<polygon points="739.3,1105.0 755.7,1095.7 755.7,1114.3" fill="#808000"/>
<polygon points="706.4,1112.0 722.8,1102.7 722.8,1121.3" fill="#808000"/>
<polygon points="673.5,1119.0 689.9,1109.7 689.9,1128.3" fill="#808000"/>
<polygon points="640.7,1127.0 657.1,1117.7 657.1,1136.3" fill="#808000"/>
<polygon points="476.3,1149.4 492.7,1140.1 492.7,1158.7" fill="#808000"/>
<polygon points="312.0,1161.8 328.4,1152.5 328.4,1171.1" fill="#808000"/>
<polygon points="312.0,1164.0 328.4,1154.7 328.4,1173.3" fill="#808000"/>
<polygon points="476.3,1152.0 492.7,1142.7 492.7,1161.3" fill="#808000"/>
<polygon points="640.7,1134.2 657.1,1124.9 657.1,1143.5" fill="#808000"/>
<polygon points="805.0,1113.4 821.4,1104.1 821.4,1122.7" fill="#808000"/>
<polygon points="969.4,1086.6 985.8,1077.3 985.8,1095.9" fill="#808000"/>
<polygon points="1002.2,1080.0 1018.6,1070.7 1018.6,1089.3" fill="#808000"/>
<polygon points="1035.1,1070.8 1051.5,1061.5 1051.5,1080.1" fill="#808000"/>
<polygon points="1068.0,1061.2 1084.4,1051.9 1084.4,1070.5" fill="#808000"/>
<polygon points="1100.8,1050.1 1117.2,1040.8 1117.2,1059.4" fill="#808000"/>
<polygon points="1107.4,1047.4 1123.8,1038.1 1123.8,1056.7" fill="#808000"/>
<polygon points="1114.0,1044.5 1130.4,1035.2 1130.4,1053.8" fill="#808000"/>
<polygon points="1120.6,1041.4 1137.0,1032.1 1137.0,1050.7" fill="#808000"/>
<polygon points="1127.1,1038.4 1143.5,1029.1 1143.5,1047.7" fill="#808000"/>
<polygon points="1133.7,1035.6 1150.1,1026.3 1150.1,1044.9" fill="#808000"/>
<polygon points="1140.3,1033.0 1156.7,1023.7 1156.7,1042.3" fill="#808000"/>
<polygon points="1146.8,1030.0 1163.2,1020.7 1163.2,1039.3" fill="#808000"/>
<polygon points="1153.4,1026.0 1169.8,1016.7 1169.8,1035.3" fill="#808000"/>
<polygon points="1160.0,1021.5 1176.4,1012.2 1176.4,1030.8" fill="#808000"/>
<polygon points="1166.6,1016.0 1183.0,1006.7 1183.0,1025.3" fill="#808000"/>
<polygon points="1173.1,1009.5 1189.5,1000.2 1189.5,1018.8" fill="#808000"/>
<polygon points="1179.7,1002.0 1196.1,992.7 1196.1,1011.3" fill="#808000"/>
<polygon points="1186.3,993.5 1202.7,984.2 1202.7,1002.8" fill="#808000"/>
<polygon points="1192.9,983.5 1209.3,974.2 1209.3,992.8" fill="#808000"/>
<polygon points="1199.4,973.0 1215.8,963.7 1215.8,982.3" fill="#808000"/>
<polygon points="1206.0,963.4 1222.4,954.1 1222.4,972.7" fill="#808000"/>
<polygon points="1212.6,952.2 1229.0,942.9 1229.0,961.5" fill="#808000"/>
<polygon points="1219.2,940.2 1235.6,930.9 1235.6,949.5" fill="#808000"/>
<polygon points="1225.7,927.4 1242.1,918.1 1242.1,936.7" fill="#808000"/>
<polygon points="1232.3,914.5 1248.7,905.2 1248.7,923.8" fill="#808000"/>
<polygon points="1298.0,700.2 1314.5,690.9 1314.5,709.5" fill="#808000"/>
<polygon points="1330.9,535.2 1347.3,525.9 1347.3,544.5" fill="#808000"/>
<polygon points="1363.8,385.9 1380.2,376.6 1380.2,395.2" fill="#808000"/>
<polygon points="1396.7,292.6 1413.1,283.3 1413.1,301.9" fill="#808000"/>
<polygon points="1429.5,243.7 1445.9,234.4 1445.9,253.0" fill="#808000"/>
<polygon points="1462.4,214.0 1478.8,204.7 1478.8,223.3" fill="#808000"/>
<polygon points="1495.3,205.0 1511.7,195.7 1511.7,214.3" fill="#808000"/>
<polygon points="1528.1,198.0 1544.5,188.7 1544.5,207.3" fill="#808000"/>
<polygon points="1561.0,191.0 1577.4,181.7 1577.4,200.3" fill="#808000"/>
<polygon points="1593.9,184.0 1610.3,174.7 1610.3,193.3" fill="#808000"/>
<polygon points="1626.8,178.0 1643.2,168.7 1643.2,187.3" fill="#808000"/>
<polygon points="1791.1,160.3 1807.5,151.0 1807.5,169.6" fill="#808000"/>
<polygon points="1955.5,147.8 1971.9,138.5 1971.9,157.1" fill="#808000"/></g>
<g><path d="M1955.4 151.3L1813.0 163.7M1791.1 165.7L1648.6 179.9M1626.7 182.4L1484.2 200.6M1462.5 203.8L1319.8 228.2M1298.2 232.4L1286.8 235.1M1265.5 240.6L1253.8 243.9M1232.6 250.1L1220.9 253.4M1200.1 260.4L1187.8 265.1M1043.8 494.8L982.4 800.3M978.1 821.9L949.6 962.2M943.1 983.1L918.8 1040.6M906.4 1058.2L889.7 1073.7M871.1 1084.3L859.3 1087.7M838.0 1092.8L826.7 1095.0M805.2 1099.6L793.7 1102.4M772.3 1107.6L760.8 1110.4M739.2 1114.3L728.2 1115.7M706.4 1118.3L695.3 1119.7M673.5 1122.3L662.5 1123.7M640.6 1126.1L498.1 1140.4M476.2 1142.4L333.8 1154.6M333.8 1158.6L476.2 1146.9M498.1 1144.8L640.6 1129.2M662.4 1126.4L805.0 1105.0M826.8 1101.7L969.4 1078.9M991.1 1075.6L1002.2 1073.9M1023.7 1069.2L1035.4 1065.8M1056.5 1059.6L1068.3 1056.1M1089.1 1049.0L1101.5 1044.2M1245.4 817.3L1306.8 512.9M1311.1 491.3L1339.7 349.1M1346.0 328.1L1370.5 268.3M1382.9 250.7L1399.4 235.9M1417.7 224.3L1430.3 219.1M1451.1 212.3L1462.6 209.6M1484.2 205.6L1495.3 204.2M1517.1 201.2L1528.2 199.6M1549.9 196.3L1561.0 194.7M1582.8 191.3L1593.9 189.7M1615.7 186.7L1626.7 185.3M1648.6 182.9L1791.1 168.3M1813.0 166.2L1955.4 153.8" stroke="#000080" stroke-width="3.0" fill="none"/>
<polygon points="1977.3,150.4 1960.9,141.1 1960.9,159.7" fill="#000080"/>
<polygon points="1812.9,164.6 1796.5,155.3 1796.5,173.9" fill="#000080"/>
<polygon points="1648.6,181.0 1632.2,171.7 1632.2,190.3" fill="#000080"/>
<polygon points="1484.2,202.0 1467.8,192.7 1467.8,211.3" fill="#000080"/>
<polygon points="1319.9,230.0 1303.5,220.7 1303.5,239.3" fill="#000080"/>
<polygon points="1287.0,237.5 1270.6,228.2 1270.6,246.8" fill="#000080"/>
<polygon points="1254.1,247.0 1237.7,237.7 1237.7,256.3" fill="#000080"/>
<polygon points="1221.2,256.5 1204.8,247.2 1204.8,265.8" fill="#000080"/>
<polygon points="1188.4,269.0 1172.0,259.7 1172.0,278.3" fill="#000080"/>
<polygon points="1181.8,271.5 1165.4,262.2 1165.4,280.8" fill="#000080"/>
<polygon points="1175.2,273.9 1158.8,264.6 1158.8,283.2" fill="#000080"/>
<polygon points="1168.6,276.5 1152.2,267.2 1152.2,285.8" fill="#000080"/>
<polygon points="1162.1,279.4 1145.7,270.1 1145.7,288.7" fill="#000080"/>
<polygon points="1155.5,283.0 1139.1,273.7 1139.1,292.3" fill="#000080"/>
<polygon points="1148.9,288.5 1132.5,279.2 1132.5,297.8" fill="#000080"/>
<polygon points="1142.4,294.5 1126.0,285.2 1126.0,303.8" fill="#000080"/>
<polygon points="1135.8,301.5 1119.4,292.2 1119.4,310.8" fill="#000080"/>
<polygon points="1129.2,308.9 1112.8,299.6 1112.8,318.2" fill="#000080"/>
<polygon points="1122.6,318.5 1106.2,309.2 1106.2,327.8" fill="#000080"/>
<polygon points="1116.1,329.7 1099.7,320.4 1099.7,339.0" fill="#000080"/>
<polygon points="1109.5,342.6 1093.1,333.3 1093.1,351.9" fill="#000080"/>
<polygon points="1102.9,356.7 1086.5,347.4 1086.5,366.0" fill="#000080"/>
<polygon points="1096.3,372.7 1079.9,363.4 1079.9,382.0" fill="#000080"/>
<polygon points="1089.8,389.0 1073.4,379.7 1073.4,398.3" fill="#000080"/>
<polygon points="1083.2,407.2 1066.8,397.9 1066.8,416.5" fill="#000080"/>
<polygon points="1076.6,425.1 1060.2,415.8 1060.2,434.4" fill="#000080"/>
<polygon points="1070.0,444.4 1053.6,435.1 1053.6,453.7" fill="#000080"/>
<polygon points="1063.5,462.0 1047.1,452.7 1047.1,471.3" fill="#000080"/>
<polygon points="1056.9,484.0 1040.5,474.7 1040.5,493.3" fill="#000080"/>
<polygon points="991.1,811.1 974.8,801.8 974.8,820.4" fill="#000080"/>
<polygon points="958.3,973.0 941.9,963.7 941.9,982.3" fill="#000080"/>
<polygon points="925.4,1050.7 909.0,1041.4 909.0,1060.0" fill="#000080"/>
<polygon points="892.5,1081.2 876.1,1071.9 876.1,1090.5" fill="#000080"/>
<polygon points="859.7,1090.8 843.3,1081.5 843.3,1100.1" fill="#000080"/>
<polygon points="826.8,1097.0 810.4,1087.7 810.4,1106.3" fill="#000080"/>
<polygon points="793.9,1105.0 777.5,1095.7 777.5,1114.3" fill="#000080"/>
<polygon points="761.1,1113.0 744.7,1103.7 744.7,1122.3" fill="#000080"/>
<polygon points="728.2,1117.0 711.8,1107.7 711.8,1126.3" fill="#000080"/>
<polygon points="695.3,1121.0 678.9,1111.7 678.9,1130.3" fill="#000080"/>
<polygon points="662.5,1125.0 646.1,1115.7 646.1,1134.3" fill="#000080"/>
<polygon points="498.1,1141.5 481.7,1132.2 481.7,1150.8" fill="#000080"/>
<polygon points="333.8,1155.5 317.4,1146.2 317.4,1164.8" fill="#000080"/>
<polygon points="333.8,1159.5 317.4,1150.2 317.4,1168.8" fill="#000080"/>
<polygon points="498.1,1146.0 481.7,1136.7 481.7,1155.3" fill="#000080"/>
<polygon points="662.5,1128.0 646.1,1118.7 646.1,1137.3" fill="#000080"/>
<polygon points="826.8,1103.4 810.4,1094.1 810.4,1112.7" fill="#000080"/>
<polygon points="991.1,1077.2 974.8,1067.9 974.8,1086.5" fill="#000080"/>
<polygon points="1024.0,1072.3 1007.6,1063.0 1007.6,1081.6" fill="#000080"/>
<polygon points="1056.9,1062.7 1040.5,1053.4 1040.5,1072.0" fill="#000080"/>
<polygon points="1089.8,1053.0 1073.4,1043.7 1073.4,1062.3" fill="#000080"/>
<polygon points="1122.6,1040.2 1106.2,1030.9 1106.2,1049.5" fill="#000080"/>
<polygon points="1129.2,1037.6 1112.8,1028.3 1112.8,1046.9" fill="#000080"/>
<polygon points="1135.8,1035.2 1119.4,1025.9 1119.4,1044.5" fill="#000080"/>
<polygon points="1142.4,1032.6 1126.0,1023.3 1126.0,1041.9" fill="#000080"/>
<polygon points="1148.9,1029.6 1132.5,1020.3 1132.5,1038.9" fill="#000080"/>
<polygon points="1155.5,1026.0 1139.1,1016.7 1139.1,1035.3" fill="#000080"/>
<polygon points="1162.1,1020.5 1145.7,1011.2 1145.7,1029.8" fill="#000080"/>
<polygon points="1168.6,1014.5 1152.2,1005.2 1152.2,1023.8" fill="#000080"/>
<polygon points="1175.2,1008.0 1158.8,998.7 1158.8,1017.3" fill="#000080"/>
<polygon points="1181.8,999.3 1165.4,990.0 1165.4,1008.6" fill="#000080"/>
<polygon points="1188.4,989.1 1172.0,979.8 1172.0,998.4" fill="#000080"/>
<polygon points="1194.9,979.5 1178.5,970.2 1178.5,988.8" fill="#000080"/>
<polygon points="1201.5,968.3 1185.1,959.0 1185.1,977.6" fill="#000080"/>
<polygon points="1208.1,955.1 1191.7,945.8 1191.7,964.4" fill="#000080"/>
<polygon points="1214.7,938.6 1198.3,929.3 1198.3,947.9" fill="#000080"/>
<polygon points="1221.2,921.8 1204.8,912.5 1204.8,931.1" fill="#000080"/>
<polygon points="1227.8,903.3 1211.4,894.0 1211.4,912.6" fill="#000080"/>
<polygon points="1234.4,885.7 1218.0,876.4 1218.0,895.0" fill="#000080"/>
<polygon points="1241.0,866.5 1224.6,857.2 1224.6,875.8" fill="#000080"/>
<polygon points="1247.5,846.5 1231.1,837.2 1231.1,855.8" fill="#000080"/>
<polygon points="1254.1,828.1 1237.7,818.8 1237.7,837.4" fill="#000080"/>
<polygon points="1319.9,502.1 1303.5,492.8 1303.5,511.4" fill="#000080"/>
<polygon points="1352.7,338.3 1336.3,329.0 1336.3,347.6" fill="#000080"/>
<polygon points="1385.6,258.1 1369.2,248.8 1369.2,267.4" fill="#000080"/>
<polygon points="1418.5,228.5 1402.1,219.2 1402.1,237.8" fill="#000080"/>
<polygon points="1451.3,214.9 1434.9,205.6 1434.9,224.2" fill="#000080"/>
<polygon points="1484.2,207.0 1467.8,197.7 1467.8,216.3" fill="#000080"/>
<polygon points="1517.1,202.8 1500.7,193.5 1500.7,212.1" fill="#000080"/>
<polygon points="1549.9,198.0 1533.5,188.7 1533.5,207.3" fill="#000080"/>
<polygon points="1582.8,193.0 1566.4,183.7 1566.4,202.3" fill="#000080"/>
<polygon points="1615.7,188.0 1599.3,178.7 1599.3,197.3" fill="#000080"/>
<polygon points="1648.6,184.0 1632.2,174.7 1632.2,193.3" fill="#000080"/>
<polygon points="1812.9,167.2 1796.5,157.9 1796.5,176.5" fill="#000080"/>
<polygon points="1977.3,152.8 1960.9,143.5 1960.9,162.1" fill="#000080"/></g>
<g><path d="M1955.4 169.2L1813.0 181.6M1791.1 183.8L1648.6 199.3M1626.8 202.1L1484.2 222.9M1462.5 226.7L1319.7 255.4M1298.4 260.6L1286.7 263.8M1266.0 271.2L1253.3 276.8M1233.3 286.0L1220.3 292.2M1201.8 303.9L1186.0 316.5M1102.3 479.4L1101.4 482.9M1096.0 504.2L1094.6 510.1M1089.7 531.6L1087.8 540.5M1083.4 562.1L1080.9 575.8M1077.2 597.5L1073.9 619.0M1070.8 640.8L1067.2 666.3M1064.3 688.1L1060.6 715.6M1057.7 737.4L1054.0 765.3M1051.0 787.1L1047.5 812.2M1042.7 833.6L983.5 1025.0M970.5 1040.5L957.2 1047.3M936.8 1055.1L925.1 1058.3M903.9 1064.0L892.3 1067.1M870.8 1071.8L859.6 1073.8M838.1 1078.4L826.5 1081.6M805.1 1086.2L793.9 1088.2M772.1 1090.8L761.1 1091.6M739.2 1093.6L728.2 1094.8M706.5 1098.3L695.2 1100.7M673.5 1104.2L662.5 1105.4M640.6 1107.9L498.1 1124.2M476.2 1126.4L333.8 1138.1M333.8 1140.6L476.2 1128.9M498.1 1126.7L640.6 1109.8M662.4 1106.9L805.0 1085.6M826.7 1081.8L969.5 1052.1M990.8 1046.8L1002.6 1043.4M1023.4 1036.4L1035.7 1031.9M1055.6 1022.7L1069.2 1015.3M1088.2 1004.3L1102.3 995.6M1186.8 834.0L1187.8 830.2M1193.4 808.9L1194.5 804.7M1199.5 783.2L1201.4 774.3M1205.9 752.7L1208.2 741.4M1212.1 719.7L1215.2 700.2M1218.4 678.4L1222.0 651.7M1225.0 629.9L1228.6 602.8M1231.5 581.0L1235.2 554.4M1238.1 532.6L1241.7 506.3M1246.3 484.8L1305.8 282.6M1318.9 267.3L1331.9 261.3M1352.3 253.2L1364.2 249.4M1385.5 243.9L1396.8 241.6M1418.4 237.4L1429.6 235.3M1451.2 231.2L1462.5 229.0M1484.3 226.2L1495.2 225.3M1516.9 222.1L1528.3 219.7M1549.8 215.1L1561.1 212.7M1582.7 208.6L1593.9 206.6M1615.7 203.6L1626.7 202.6M1648.6 200.4L1791.1 186.4M1813.0 184.3L1955.4 171.8" stroke="#800000" stroke-width="3.0" fill="none"/>
<polygon points="1966.4,159.8 1974.0,164.0 1974.0,172.4 1966.4,176.6 1958.8,172.4 1958.8,164.0" fill="#800000"/>
<polygon points="1802.0,174.2 1809.6,178.4 1809.6,186.8 1802.0,191.0 1794.4,186.8 1794.4,178.4" fill="#800000"/>
<polygon points="1637.7,192.1 1645.2,196.3 1645.2,204.7 1637.7,208.9 1630.1,204.7 1630.1,196.3" fill="#800000"/>
<polygon points="1473.3,216.1 1480.9,220.3 1480.9,228.7 1473.3,232.9 1465.7,228.7 1465.7,220.3" fill="#800000"/>
<polygon points="1309.0,249.2 1316.5,253.4 1316.5,261.8 1309.0,266.0 1301.4,261.8 1301.4,253.4" fill="#800000"/>
<polygon points="1276.1,258.4 1283.7,262.6 1283.7,271.0 1276.1,275.2 1268.5,271.0 1268.5,262.6" fill="#800000"/>
<polygon points="1243.2,272.8 1250.8,277.0 1250.8,285.4 1243.2,289.6 1235.6,285.4 1235.6,277.0" fill="#800000"/>
<polygon points="1210.3,288.6 1217.9,292.8 1217.9,301.2 1210.3,305.4 1202.7,301.2 1202.7,292.8" fill="#800000"/>
<polygon points="1177.5,315.0 1185.1,319.2 1185.1,327.6 1177.5,331.8 1169.9,327.6 1169.9,319.2" fill="#800000"/>
<polygon points="1170.9,319.1 1178.5,323.3 1178.5,331.7 1170.9,335.9 1163.3,331.7 1163.3,323.3" fill="#800000"/>
<polygon points="1164.3,325.6 1171.9,329.8 1171.9,338.2 1164.3,342.4 1156.7,338.2 1156.7,329.8" fill="#800000"/>
<polygon points="1157.7,334.2 1165.3,338.4 1165.3,346.8 1157.7,351.0 1150.1,346.8 1150.1,338.4" fill="#800000"/>
<polygon points="1151.2,343.4 1158.8,347.6 1158.8,356.0 1151.2,360.2 1143.6,356.0 1143.6,347.6" fill="#800000"/>
<polygon points="1144.6,353.1 1152.2,357.3 1152.2,365.7 1144.6,369.9 1137.0,365.7 1137.0,357.3" fill="#800000"/>
<polygon points="1138.0,365.6 1145.6,369.8 1145.6,378.2 1138.0,382.4 1130.4,378.2 1130.4,369.8" fill="#800000"/>
<polygon points="1131.5,380.2 1139.1,384.4 1139.1,392.8 1131.5,397.0 1123.9,392.8 1123.9,384.4" fill="#800000"/>
<polygon points="1124.9,397.6 1132.5,401.8 1132.5,410.2 1124.9,414.4 1117.3,410.2 1117.3,401.8" fill="#800000"/>
<polygon points="1118.3,418.0 1125.9,422.2 1125.9,430.6 1118.3,434.8 1110.7,430.6 1110.7,422.2" fill="#800000"/>
<polygon points="1111.7,439.2 1119.3,443.4 1119.3,451.8 1111.7,456.0 1104.1,451.8 1104.1,443.4" fill="#800000"/>
<polygon points="1105.2,460.4 1112.8,464.6 1112.8,473.0 1105.2,477.2 1097.6,473.0 1097.6,464.6" fill="#800000"/>
<polygon points="1098.6,485.1 1106.2,489.3 1106.2,497.7 1098.6,501.9 1091.0,497.7 1091.0,489.3" fill="#800000"/>
<polygon points="1092.0,512.4 1099.6,516.6 1099.6,525.0 1092.0,529.2 1084.4,525.0 1084.4,516.6" fill="#800000"/>
<polygon points="1085.4,542.9 1093.0,547.1 1093.0,555.5 1085.4,559.7 1077.8,555.5 1077.8,547.1" fill="#800000"/>
<polygon points="1078.9,578.2 1086.5,582.4 1086.5,590.8 1078.9,595.0 1071.3,590.8 1071.3,582.4" fill="#800000"/>
<polygon points="1072.3,621.5 1079.9,625.7 1079.9,634.1 1072.3,638.3 1064.7,634.1 1064.7,625.7" fill="#800000"/>
<polygon points="1065.7,668.8 1073.3,673.0 1073.3,681.4 1065.7,685.6 1058.1,681.4 1058.1,673.0" fill="#800000"/>
<polygon points="1059.1,718.1 1066.7,722.3 1066.7,730.7 1059.1,734.9 1051.5,730.7 1051.5,722.3" fill="#800000"/>
<polygon points="1052.6,767.8 1060.2,772.0 1060.2,780.4 1052.6,784.6 1045.0,780.4 1045.0,772.0" fill="#800000"/>
<polygon points="1046.0,814.7 1053.6,818.9 1053.6,827.3 1046.0,831.5 1038.4,827.3 1038.4,818.9" fill="#800000"/>
<polygon points="980.2,1027.1 987.9,1031.3 987.9,1039.7 980.2,1043.9 972.6,1039.7 972.6,1031.3" fill="#800000"/>
<polygon points="947.4,1043.9 955.0,1048.1 955.0,1056.5 947.4,1060.7 939.8,1056.5 939.8,1048.1" fill="#800000"/>
<polygon points="914.5,1052.7 922.1,1056.9 922.1,1065.3 914.5,1069.5 906.9,1065.3 906.9,1056.9" fill="#800000"/>
<polygon points="881.6,1061.6 889.2,1065.8 889.2,1074.2 881.6,1078.4 874.0,1074.2 874.0,1065.8" fill="#800000"/>
<polygon points="848.8,1067.2 856.4,1071.4 856.4,1079.8 848.8,1084.0 841.2,1079.8 841.2,1071.4" fill="#800000"/>
<polygon points="815.9,1076.0 823.5,1080.2 823.5,1088.6 815.9,1092.8 808.3,1088.6 808.3,1080.2" fill="#800000"/>
<polygon points="783.0,1081.6 790.6,1085.8 790.6,1094.2 783.0,1098.4 775.4,1094.2 775.4,1085.8" fill="#800000"/>
<polygon points="750.2,1084.0 757.8,1088.2 757.8,1096.6 750.2,1100.8 742.6,1096.6 742.6,1088.2" fill="#800000"/>
<polygon points="717.3,1087.6 724.9,1091.8 724.9,1100.2 717.3,1104.4 709.7,1100.2 709.7,1091.8" fill="#800000"/>
<polygon points="684.4,1094.6 692.0,1098.8 692.0,1107.2 684.4,1111.4 676.8,1107.2 676.8,1098.8" fill="#800000"/>
<polygon points="651.6,1098.2 659.2,1102.4 659.2,1110.8 651.6,1115.0 644.0,1110.8 644.0,1102.4" fill="#800000"/>
<polygon points="487.2,1117.1 494.8,1121.3 494.8,1129.7 487.2,1133.9 479.6,1129.7 479.6,1121.3" fill="#800000"/>
<polygon points="322.9,1130.6 330.5,1134.8 330.5,1143.2 322.9,1147.4 315.2,1143.2 315.2,1134.8" fill="#800000"/>
<polygon points="322.9,1133.1 330.5,1137.3 330.5,1145.7 322.9,1149.9 315.2,1145.7 315.2,1137.3" fill="#800000"/>
<polygon points="487.2,1119.6 494.8,1123.8 494.8,1132.2 487.2,1136.4 479.6,1132.2 479.6,1123.8" fill="#800000"/>
<polygon points="651.6,1100.1 659.2,1104.3 659.2,1112.7 651.6,1116.9 644.0,1112.7 644.0,1104.3" fill="#800000"/>
<polygon points="815.9,1075.6 823.5,1079.8 823.5,1088.2 815.9,1092.4 808.3,1088.2 808.3,1079.8" fill="#800000"/>
<polygon points="980.2,1041.5 987.9,1045.7 987.9,1054.1 980.2,1058.3 972.6,1054.1 972.6,1045.7" fill="#800000"/>
<polygon points="1013.1,1031.9 1020.7,1036.1 1020.7,1044.5 1013.1,1048.7 1005.5,1044.5 1005.5,1036.1" fill="#800000"/>
<polygon points="1046.0,1019.6 1053.6,1023.8 1053.6,1032.2 1046.0,1036.4 1038.4,1032.2 1038.4,1023.8" fill="#800000"/>
<polygon points="1078.9,1001.6 1086.5,1005.8 1086.5,1014.2 1078.9,1018.4 1071.3,1014.2 1071.3,1005.8" fill="#800000"/>
<polygon points="1111.7,981.5 1119.3,985.7 1119.3,994.1 1111.7,998.3 1104.1,994.1 1104.1,985.7" fill="#800000"/>
<polygon points="1118.3,975.1 1125.9,979.3 1125.9,987.7 1118.3,991.9 1110.7,987.7 1110.7,979.3" fill="#800000"/>
<polygon points="1124.9,967.9 1132.5,972.1 1132.5,980.5 1124.9,984.7 1117.3,980.5 1117.3,972.1" fill="#800000"/>
<polygon points="1131.5,959.9 1139.1,964.1 1139.1,972.5 1131.5,976.7 1123.9,972.5 1123.9,964.1" fill="#800000"/>
<polygon points="1138.0,951.0 1145.6,955.2 1145.6,963.6 1138.0,967.8 1130.4,963.6 1130.4,955.2" fill="#800000"/>
<polygon points="1144.6,940.6 1152.2,944.8 1152.2,953.2 1144.6,957.4 1137.0,953.2 1137.0,944.8" fill="#800000"/>
<polygon points="1151.2,927.8 1158.8,932.0 1158.8,940.4 1151.2,944.6 1143.6,940.4 1143.6,932.0" fill="#800000"/>
<polygon points="1157.7,915.0 1165.3,919.2 1165.3,927.6 1157.7,931.8 1150.1,927.6 1150.1,919.2" fill="#800000"/>
<polygon points="1164.3,898.1 1171.9,902.3 1171.9,910.7 1164.3,914.9 1156.7,910.7 1156.7,902.3" fill="#800000"/>
<polygon points="1170.9,878.6 1178.5,882.8 1178.5,891.2 1170.9,895.4 1163.3,891.2 1163.3,882.8" fill="#800000"/>
<polygon points="1177.5,858.9 1185.1,863.1 1185.1,871.5 1177.5,875.7 1169.9,871.5 1169.9,863.1" fill="#800000"/>
<polygon points="1184.0,836.2 1191.6,840.4 1191.6,848.8 1184.0,853.0 1176.4,848.8 1176.4,840.4" fill="#800000"/>
<polygon points="1190.6,811.2 1198.2,815.4 1198.2,823.8 1190.6,828.0 1183.0,823.8 1183.0,815.4" fill="#800000"/>
<polygon points="1197.2,785.6 1204.8,789.8 1204.8,798.2 1197.2,802.4 1189.6,798.2 1189.6,789.8" fill="#800000"/>
<polygon points="1203.8,755.1 1211.4,759.3 1211.4,767.7 1203.8,771.9 1196.2,767.7 1196.2,759.3" fill="#800000"/>
<polygon points="1210.3,722.2 1217.9,726.4 1217.9,734.8 1210.3,739.0 1202.7,734.8 1202.7,726.4" fill="#800000"/>
<polygon points="1216.9,680.9 1224.5,685.1 1224.5,693.5 1216.9,697.7 1209.3,693.5 1209.3,685.1" fill="#800000"/>
<polygon points="1223.5,632.4 1231.1,636.6 1231.1,645.0 1223.5,649.2 1215.9,645.0 1215.9,636.6" fill="#800000"/>
<polygon points="1230.1,583.5 1237.7,587.7 1237.7,596.1 1230.1,600.3 1222.5,596.1 1222.5,587.7" fill="#800000"/>
<polygon points="1236.6,535.1 1244.2,539.3 1244.2,547.7 1236.6,551.9 1229.0,547.7 1229.0,539.3" fill="#800000"/>
<polygon points="1243.2,487.0 1250.8,491.2 1250.8,499.6 1243.2,503.8 1235.6,499.6 1235.6,491.2" fill="#800000"/>
<polygon points="1309.0,263.6 1316.5,267.8 1316.5,276.2 1309.0,280.4 1301.4,276.2 1301.4,267.8" fill="#800000"/>
<polygon points="1341.8,248.2 1349.4,252.4 1349.4,260.8 1341.8,265.0 1334.2,260.8 1334.2,252.4" fill="#800000"/>
<polygon points="1374.7,237.6 1382.3,241.8 1382.3,250.2 1374.7,254.4 1367.1,250.2 1367.1,241.8" fill="#800000"/>
<polygon points="1407.6,231.1 1415.2,235.3 1415.2,243.7 1407.6,247.9 1400.0,243.7 1400.0,235.3" fill="#800000"/>
<polygon points="1440.4,224.8 1448.0,229.0 1448.0,237.4 1440.4,241.6 1432.8,237.4 1432.8,229.0" fill="#800000"/>
<polygon points="1473.3,218.6 1480.9,222.8 1480.9,231.2 1473.3,235.4 1465.7,231.2 1465.7,222.8" fill="#800000"/>
<polygon points="1506.2,216.1 1513.8,220.3 1513.8,228.7 1506.2,232.9 1498.6,228.7 1498.6,220.3" fill="#800000"/>
<polygon points="1539.0,208.9 1546.6,213.1 1546.6,221.5 1539.0,225.7 1531.4,221.5 1531.4,213.1" fill="#800000"/>
<polygon points="1571.9,202.1 1579.5,206.3 1579.5,214.7 1571.9,218.9 1564.3,214.7 1564.3,206.3" fill="#800000"/>
<polygon points="1604.8,196.3 1612.4,200.5 1612.4,208.9 1604.8,213.1 1597.2,208.9 1597.2,200.5" fill="#800000"/>
<polygon points="1637.7,193.1 1645.2,197.3 1645.2,205.7 1637.7,209.9 1630.1,205.7 1630.1,197.3" fill="#800000"/>
<polygon points="1802.0,176.9 1809.6,181.1 1809.6,189.5 1802.0,193.7 1794.4,189.5 1794.4,181.1" fill="#800000"/>
<polygon points="1966.4,162.4 1974.0,166.6 1974.0,175.0 1966.4,179.2 1958.8,175.0 1958.8,166.6" fill="#800000"/></g>
</g>
<line x1="1145.4" y1="41.0" x2="1145.4" y2="1267.0" stroke="#000" stroke-width="3"/>
<g shape-rendering="crispEdges"><rect x="323.0" y="41.0" width="1644.0" height="1226.0" fill="none" stroke="#000" stroke-width="10.0"/><path d="M323.5 1271.5V1279.0M487.8 1271.5V1291.5M652.2 1271.5V1279.0M816.5 1271.5V1291.5M980.9 1271.5V1279.0M1145.2 1271.5V1291.5M1309.5 1271.5V1279.0M1473.9 1271.5V1291.5M1638.2 1271.5V1279.0M1802.6 1271.5V1291.5M1967.0 1271.5V1279.0M318.5 1267.1H298.5M318.5 1113.8H311.0M318.5 960.6H298.5M318.5 807.4H311.0M318.5 654.1H298.5M318.5 500.9H311.0M318.5 347.6H298.5M318.5 194.4H311.0M318.5 41.1H298.5M492.5 45.5V53.0M794.8 45.5V65.0M1097.1 45.5V53.0M1399.4 45.5V65.0M1701.7 45.5V53.0M1962.5 165.2H1955.0M1962.5 395.7H1943.0M1962.5 626.2H1955.0M1962.5 856.7H1943.0M1962.5 1087.2H1955.0" stroke="#000" stroke-width="10.0" fill="none"/></g>
<g font-family="'Liberation Serif', serif" font-weight="bold" font-size="63px" fill="#000" stroke="#fff" stroke-width="1.4">
<text x="285.2" y="53.8" text-anchor="end">0.0002</text>
<text x="285.2" y="360.3" text-anchor="end">0.0001</text>
<text x="285.2" y="666.8" text-anchor="end">0.0000</text>
<text x="285.2" y="973.3" text-anchor="end">-0.0001</text>
<text x="285.2" y="1279.8" text-anchor="end">-0.0002</text>
<text x="486.8" y="1350.5" text-anchor="middle">-2000</text>
<text x="815.5" y="1350.5" text-anchor="middle">-1000</text>
<text x="1144.2" y="1350.5" text-anchor="middle">0</text>
<text x="1472.9" y="1350.5" text-anchor="middle">1000</text>
<text x="1801.6" y="1350.5" text-anchor="middle">2000</text>
</g>
<g font-family="'Liberation Serif', serif" font-weight="bold" font-size="91.5px" fill="#000" stroke="#fff" stroke-width="1.6">
<text x="1030.5" y="1440.5" letter-spacing="0.6"><tspan font-style="italic">H</tspan> <tspan font-size="80px" dy="-8">(</tspan><tspan dy="8">Oe</tspan><tspan font-size="80px" dy="-8">)</tspan></text>
<text transform="translate(84.8 984) rotate(-90)" font-size="93.2px">Moment <tspan font-size="83.5px" dy="-8">(</tspan><tspan dy="8">emu</tspan><tspan font-size="83.5px" dy="-8">)</tspan></text>
</g>
<rect x="1613.3" y="681.4" width="246.3" height="556.8" fill="#fff" stroke="#000" stroke-width="2.6" shape-rendering="crispEdges"/>
<g font-family="'Liberation Serif', serif" font-size="48px" fill="#000">
<path d="M1618.2 715.7H1657.9M1698.1 715.7H1737" stroke="#000000" stroke-width="4.8" shape-rendering="crispEdges"/>
<rect x="1670.4" y="708.7" width="14" height="14" fill="#000000"/>
<text x="1748.5" y="733.0">5K</text>
<path d="M1618.2 785.9H1657.9M1698.1 785.9H1737" stroke="#ff0000" stroke-width="3.1" shape-rendering="crispEdges"/>
<circle cx="1677.4" cy="785.9" r="7.6" fill="#ff0000"/>
<text x="1748.5" y="803.2">20K</text>
<path d="M1618.2 856.2H1657.9M1698.1 856.2H1737" stroke="#0000ff" stroke-width="3.1" shape-rendering="crispEdges"/>
<polygon points="1677.4,845.3 1668.1,861.7 1686.7,861.7" fill="#0000ff"/>
<text x="1748.5" y="873.5">40K</text>
<path d="M1618.2 926.4H1657.9M1698.1 926.4H1737" stroke="#008080" stroke-width="3.1" shape-rendering="crispEdges"/>
<polygon points="1677.4,937.3 1668.1,920.9 1686.7,920.9" fill="#008080"/>
<text x="1748.5" y="943.7">60K</text>
<path d="M1618.2 996.6H1657.9M1698.1 996.6H1737" stroke="#ff00ff" stroke-width="4.8" shape-rendering="crispEdges"/>
<polygon points="1677.4,986.6 1687.4,996.6 1677.4,1006.6 1667.4,996.6" fill="#ff00ff"/>
<text x="1748.5" y="1013.9">100K</text>
<path d="M1618.2 1066.9H1657.9M1698.1 1066.9H1737" stroke="#808000" stroke-width="3.1" shape-rendering="crispEdges"/>
<polygon points="1666.5,1066.9 1682.9,1057.6 1682.9,1076.2" fill="#808000"/>
<text x="1748.5" y="1084.2">150K</text>
<path d="M1618.2 1137.1H1657.9M1698.1 1137.1H1737" stroke="#000080" stroke-width="3.1" shape-rendering="crispEdges"/>
<polygon points="1688.3,1137.1 1671.9,1127.8 1671.9,1146.4" fill="#000080"/>
<text x="1748.5" y="1154.4">200K</text>
<path d="M1618.2 1207.3H1657.9M1698.1 1207.3H1737" stroke="#800000" stroke-width="3.1" shape-rendering="crispEdges"/>
<polygon points="1677.4,1198.9 1685.0,1203.1 1685.0,1211.5 1677.4,1215.7 1669.8,1211.5 1669.8,1203.1" fill="#800000"/>
<text x="1748.5" y="1224.6">300K</text>
</g>
</svg>
</body>
</html>
